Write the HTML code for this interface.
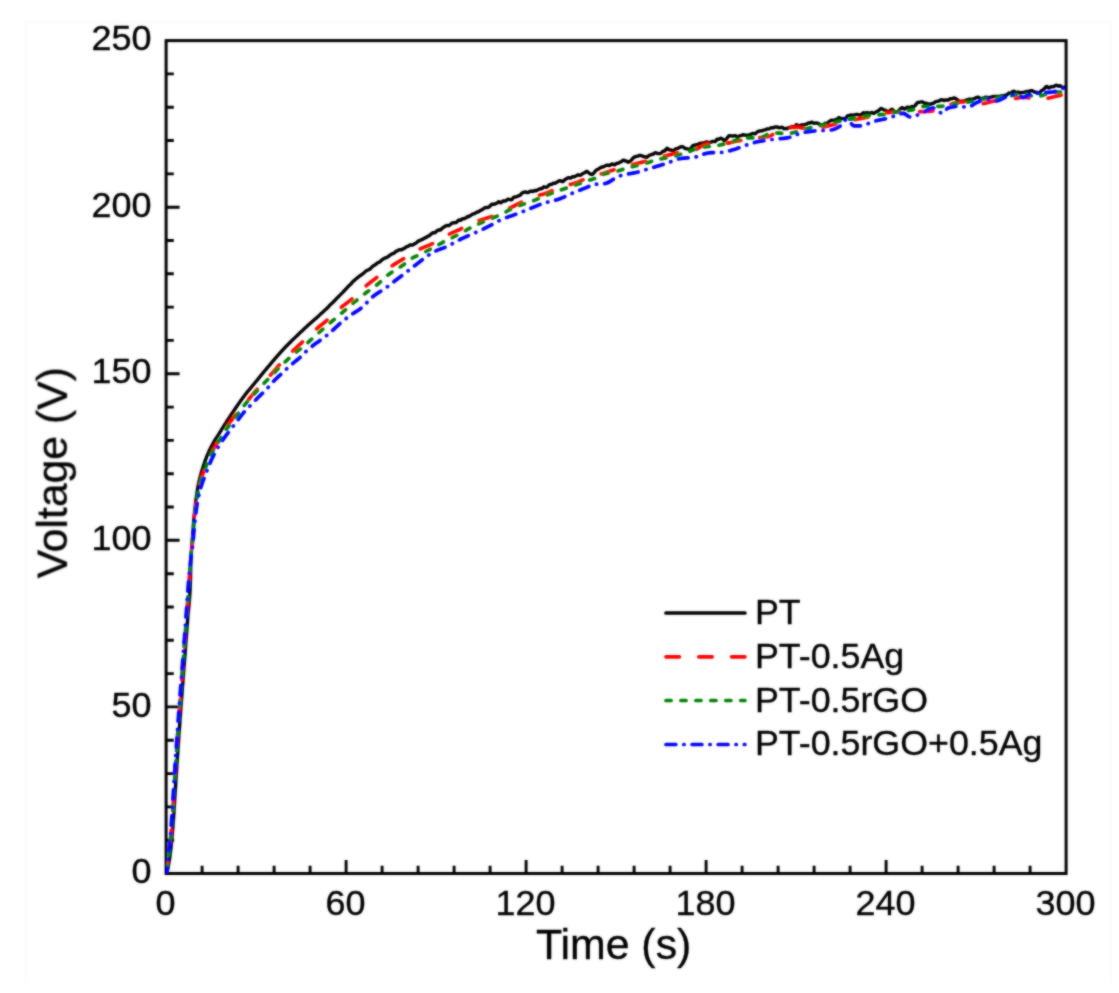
<!DOCTYPE html>
<html lang="en"><head><meta charset="utf-8"><title>Voltage vs Time</title>
<style>
html,body{margin:0;padding:0;background:#fff;}
body{width:1119px;height:993px;overflow:hidden;position:relative;}
svg{display:block;position:absolute;left:0;top:0;}
text{font-family:"Liberation Sans",Arial,Helvetica,sans-serif;fill:#000;stroke:#000;stroke-width:0.35px;}
.tl{font-size:36px;}
.ax{font-size:42.5px;}
.lg{font-size:35.8px;}
.c{fill:none;stroke-width:3.7;stroke-linejoin:round;stroke-linecap:round;}
</style></head><body>
<svg width="1119" height="993" viewBox="0 0 1119 993">
<rect x="0" y="0" width="1119" height="993" fill="#ffffff"/>
<path d="M26,983V22H1110.5V983" fill="none" stroke="#fcfcfc" stroke-width="3"/>
<defs><filter id="bl" filterUnits="userSpaceOnUse" x="0" y="0" width="1119" height="993"><feGaussianBlur stdDeviation="0.8" result="b"/><feComposite in="SourceGraphic" in2="b" operator="arithmetic" k1="0" k2="0.4" k3="0.6" k4="0"/></filter></defs>
<defs><clipPath id="cp"><rect x="165.1" y="40.6" width="901.0" height="833.9"/></clipPath></defs>
<g filter="url(#bl)">
<rect x="166.1" y="40.6" width="900.0" height="832.9" fill="none" stroke="#000" stroke-width="3.0"/>
<path d="M166.1,840.2h7.7M166.1,806.9h7.7M166.1,773.6h7.7M166.1,740.2h7.7M166.1,706.9h13.5M166.1,673.6h7.7M166.1,640.3h7.7M166.1,607.0h7.7M166.1,573.7h7.7M166.1,540.3h13.5M166.1,507.0h7.7M166.1,473.7h7.7M166.1,440.4h7.7M166.1,407.1h7.7M166.1,373.8h13.5M166.1,340.4h7.7M166.1,307.1h7.7M166.1,273.8h7.7M166.1,240.5h7.7M166.1,207.2h13.5M166.1,173.9h7.7M166.1,140.5h7.7M166.1,107.2h7.7M166.1,73.9h7.7M202.1,873.5v-7.7M238.1,873.5v-7.7M274.1,873.5v-7.7M310.1,873.5v-7.7M346.1,873.5v-13.5M382.1,873.5v-7.7M418.1,873.5v-7.7M454.1,873.5v-7.7M490.1,873.5v-7.7M526.1,873.5v-13.5M562.1,873.5v-7.7M598.1,873.5v-7.7M634.1,873.5v-7.7M670.1,873.5v-7.7M706.1,873.5v-13.5M742.1,873.5v-7.7M778.1,873.5v-7.7M814.1,873.5v-7.7M850.1,873.5v-7.7M886.1,873.5v-13.5M922.1,873.5v-7.7M958.1,873.5v-7.7M994.1,873.5v-7.7M1030.1,873.5v-7.7" stroke="#000" stroke-width="2.9" fill="none"/>
</g>
<g clip-path="url(#cp)"><g filter="url(#bl)">
<path class="c" stroke="#000000" style="stroke-width:3.4" d="M166.9,872.5 L167.1,871.8 L167.3,871.1 L167.5,870.3 L167.7,869.4 L167.9,868.4 L168.1,867.4 L168.3,866.4 L168.5,865.3 L168.7,864.1 L168.9,863.0 L169.1,861.7 L169.3,860.5 L169.5,859.2 L169.7,857.8 L169.9,856.4 L170.1,854.9 L170.3,853.3 L170.5,851.7 L170.7,850.0 L170.9,848.2 L171.1,846.3 L171.3,844.4 L171.5,842.4 L171.7,840.3 L171.9,838.2 L172.1,836.1 L172.3,833.9 L172.5,831.6 L172.7,829.3 L172.9,826.9 L173.1,824.3 L173.3,821.6 L173.5,818.8 L173.7,815.8 L173.9,812.8 L174.1,809.7 L174.3,806.6 L174.5,803.4 L174.7,800.2 L174.9,796.9 L175.1,793.6 L175.3,790.4 L175.5,787.1 L175.7,783.9 L175.9,780.8 L176.1,777.6 L176.3,774.6 L176.5,771.6 L176.7,768.6 L176.9,765.6 L177.1,762.5 L177.3,759.5 L177.5,756.5 L177.7,753.5 L177.9,750.5 L178.1,747.5 L178.3,744.6 L178.5,741.6 L178.7,738.7 L178.9,735.9 L179.1,733.0 L179.3,730.2 L179.5,727.4 L179.7,724.6 L179.9,721.8 L180.1,719.0 L180.3,716.2 L180.5,713.5 L180.7,710.8 L180.9,708.1 L181.1,705.4 L181.3,702.7 L181.5,700.0 L181.7,697.3 L181.9,694.7 L182.1,692.1 L182.3,689.5 L182.5,686.9 L182.7,684.4 L182.9,681.8 L183.1,679.3 L183.3,676.7 L183.5,674.2 L183.7,671.6 L183.9,669.1 L184.1,666.5 L184.3,663.9 L184.5,661.3 L184.7,658.7 L184.9,656.1 L185.1,653.4 L185.3,650.8 L185.5,648.1 L185.7,645.5 L185.9,642.8 L186.1,640.2 L186.3,637.5 L186.5,634.8 L186.7,632.1 L186.9,629.5 L187.1,626.8 L187.3,624.1 L187.5,621.4 L187.7,618.7 L187.9,616.2 L188.1,614.0 L188.3,611.9 L188.5,609.9 L188.7,607.9 L188.9,605.8 L189.1,603.7 L189.3,601.3 L189.5,598.8 L189.7,595.9 L189.9,592.6 L190.1,588.9 L190.3,584.7 L190.5,580.0 L190.7,570.0 L190.9,560.0 L191.1,555.6 L191.3,552.1 L191.5,549.3 L191.7,546.9 L191.9,544.7 L192.1,542.5 L192.3,540.0 L192.5,537.2 L192.7,534.4 L192.9,531.6 L193.1,528.8 L193.3,526.1 L193.5,523.4 L193.7,520.8 L193.9,518.4 L194.1,516.2 L194.3,514.1 L194.5,512.1 L194.7,510.2 L194.9,508.4 L195.1,506.6 L195.3,505.0 L195.5,503.3 L195.7,501.8 L195.9,500.3 L196.1,498.8 L196.3,497.4 L196.5,496.0 L196.7,494.6 L196.9,493.3 L197.1,492.0 L197.3,490.7 L197.5,489.5 L197.7,488.2 L197.9,487.1 L198.1,486.0 L198.3,484.9 L198.5,483.9 L198.7,482.9 L198.9,481.9 L199.1,481.0 L199.3,480.2 L199.5,479.3 L199.7,478.5 L199.9,477.7 L200.1,476.9 L200.3,476.1 L200.5,475.4 L200.7,474.6 L200.9,473.9 L201.1,473.2 L201.3,472.5 L201.5,471.9 L201.7,471.2 L201.9,470.6 L202.1,469.9 L202.3,469.3 L202.5,468.6 L202.7,468.0 L202.9,467.4 L203.1,466.8 L203.3,466.1 L203.5,465.5 L203.7,464.9 L203.9,464.3 L204.1,463.8 L204.3,463.2 L204.5,462.6 L204.7,462.0 L204.9,461.5 L205.1,460.9 L205.3,460.4 L205.5,459.8 L205.7,459.3 L205.9,458.8 L206.1,458.3 L206.3,457.7 L206.5,457.2 L206.7,456.7 L206.9,456.2 L207.1,455.7 L207.3,455.3 L207.5,454.8 L207.7,454.3 L207.9,453.8 L208.1,453.4 L208.3,452.9 L208.5,452.5 L208.7,452.0 L208.9,451.6 L209.1,451.1 L209.3,450.7 L209.5,450.3 L209.7,449.8 L209.9,449.4 L210.1,449.0 L210.3,448.6 L210.5,448.2 L210.7,447.8 L210.9,447.4 L211.1,447.0 L211.3,446.6 L211.5,446.2 L211.7,445.8 L211.9,445.4 L212.1,445.1 L212.3,444.7 L212.5,444.3 L212.7,443.9 L212.9,443.6 L213.1,443.2 L213.3,442.9 L213.5,442.5 L213.7,442.1 L213.9,441.8 L214.1,441.5 L214.3,441.1 L214.5,440.8 L214.7,440.5 L214.9,440.2 L215.0,440.0 L216.0,438.4 L217.0,436.9 L218.0,435.4 L219.0,433.8 L220.0,432.2 L221.0,430.6 L222.0,428.9 L223.0,427.3 L224.0,425.7 L225.0,424.1 L226.0,422.6 L227.0,421.0 L228.0,419.5 L229.0,417.9 L230.0,416.4 L231.0,414.9 L232.0,413.4 L233.0,411.9 L234.0,410.5 L235.0,409.0 L236.0,407.5 L237.0,406.1 L238.0,404.6 L239.0,403.2 L240.0,401.8 L241.0,400.3 L242.0,399.0 L243.0,397.6 L244.0,396.3 L245.0,394.9 L246.0,393.7 L247.0,392.4 L248.0,391.2 L249.0,390.0 L250.0,388.8 L251.0,387.6 L252.0,386.4 L253.0,385.2 L254.0,384.0 L255.0,382.7 L256.0,381.5 L257.0,380.3 L258.0,379.1 L259.0,377.8 L260.0,376.6 L261.0,375.4 L262.0,374.2 L263.0,372.9 L264.0,371.7 L265.0,370.5 L266.0,369.3 L267.0,368.1 L268.0,366.9 L269.0,365.8 L270.0,364.6 L271.0,363.4 L272.0,362.2 L273.0,361.0 L274.0,359.9 L275.0,358.7 L276.0,357.5 L277.0,356.4 L278.0,355.2 L279.0,354.1 L280.0,353.0 L281.0,351.8 L282.0,350.7 L283.0,349.7 L284.0,348.6 L285.0,347.5 L286.0,346.5 L287.0,345.5 L288.0,344.5 L289.0,343.5 L290.0,342.5 L291.0,341.5 L292.0,340.5 L293.0,339.5 L294.0,338.6 L295.0,337.6 L296.0,336.6 L297.0,335.7 L298.0,334.7 L299.0,333.7 L300.0,332.8 L301.0,331.8 L302.0,330.9 L303.0,330.0 L304.0,329.0 L305.0,328.1 L306.0,327.2 L307.0,326.3 L308.0,325.3 L309.0,324.4 L310.0,323.5 L311.0,322.7 L312.0,321.8 L313.0,320.9 L314.0,320.0 L315.0,319.1 L316.0,318.3 L317.0,317.5 L318.0,316.6 L319.0,315.6 L320.0,314.6 L321.0,313.6 L322.0,312.8 L323.0,311.9 L324.0,311.0 L325.0,310.1 L326.0,309.2 L327.0,308.2 L328.0,307.3 L329.0,306.2 L330.0,305.0 L331.0,304.1 L332.0,303.2 L333.0,302.3 L334.0,301.3 L335.0,300.3 L336.0,299.2 L337.0,298.1 L338.0,297.2 L339.0,296.1 L340.0,295.1 L341.0,294.1 L342.0,293.1 L343.0,292.1 L344.0,291.0 L345.0,290.0 L346.0,288.9 L347.0,287.8 L348.0,286.7 L349.0,285.7 L350.0,284.8 L351.0,283.9 L352.0,282.6 L353.0,281.5 L354.0,280.7 L355.0,279.9 L356.0,278.9 L357.0,278.1 L358.0,277.3 L359.0,276.4 L360.0,275.8 L361.0,275.2 L362.0,274.3 L363.0,273.6 L364.0,272.9 L365.0,271.9 L366.0,270.9 L367.0,270.4 L368.0,270.0 L369.0,269.6 L370.0,269.0 L371.0,268.0 L372.0,266.9 L373.0,266.0 L374.0,265.4 L375.0,265.0 L376.0,264.2 L377.0,263.2 L378.0,262.6 L379.0,262.3 L380.0,261.8 L381.0,260.8 L382.0,259.8 L383.0,259.1 L384.0,258.5 L385.0,258.0 L386.0,257.7 L387.0,257.3 L388.0,256.7 L389.0,256.0 L390.0,255.2 L391.0,254.5 L392.0,253.9 L393.0,253.5 L394.0,253.2 L395.0,252.3 L396.0,251.3 L397.0,250.9 L398.0,250.4 L399.0,249.8 L400.0,249.6 L401.0,249.8 L402.0,249.5 L403.0,248.8 L404.0,248.5 L405.0,248.0 L406.0,247.1 L407.0,246.6 L408.0,246.4 L409.0,245.7 L410.0,245.0 L411.0,244.8 L412.0,245.0 L413.0,244.8 L414.0,244.2 L415.0,243.5 L416.0,243.1 L417.0,242.2 L418.0,241.2 L419.0,240.8 L420.0,240.4 L421.0,239.9 L422.0,239.5 L423.0,239.2 L424.0,238.4 L425.0,237.8 L426.0,237.5 L427.0,236.8 L428.0,236.2 L429.0,235.9 L430.0,235.0 L431.0,234.1 L432.0,233.4 L433.0,232.7 L434.0,232.7 L435.0,232.7 L436.0,231.8 L437.0,230.8 L438.0,230.1 L439.0,229.9 L440.0,230.2 L441.0,229.5 L442.0,228.4 L443.0,227.7 L444.0,227.0 L445.0,226.3 L446.0,225.8 L447.0,225.5 L448.0,225.6 L449.0,225.5 L450.0,224.9 L451.0,223.9 L452.0,223.1 L453.0,222.8 L454.0,222.6 L455.0,222.7 L456.0,222.5 L457.0,221.8 L458.0,220.7 L459.0,220.0 L460.0,220.4 L461.0,220.1 L462.0,218.9 L463.0,218.8 L464.0,218.7 L465.0,218.1 L466.0,217.9 L467.0,217.0 L468.0,216.3 L469.0,216.5 L470.0,215.9 L471.0,215.1 L472.0,214.5 L473.0,213.9 L474.0,213.9 L475.0,213.3 L476.0,212.6 L477.0,212.2 L478.0,212.0 L479.0,211.5 L480.0,210.7 L481.0,210.3 L482.0,209.7 L483.0,208.9 L484.0,208.4 L485.0,207.7 L486.0,207.5 L487.0,207.6 L488.0,207.3 L489.0,207.0 L490.0,206.2 L491.0,204.9 L492.0,204.1 L493.0,204.2 L494.0,204.3 L495.0,203.9 L496.0,203.5 L497.0,203.1 L498.0,202.1 L499.0,201.7 L500.0,202.4 L501.0,202.8 L502.0,201.9 L503.0,200.9 L504.0,201.0 L505.0,201.1 L506.0,200.7 L507.0,199.8 L508.0,199.3 L509.0,199.3 L510.0,199.6 L511.0,199.9 L512.0,199.4 L513.0,198.0 L514.0,197.2 L515.0,197.0 L516.0,196.8 L517.0,196.6 L518.0,196.1 L519.0,195.7 L520.0,195.2 L521.0,194.2 L522.0,193.0 L523.0,192.5 L524.0,192.3 L525.0,192.0 L526.0,192.0 L527.0,192.6 L528.0,192.6 L529.0,192.0 L530.0,191.4 L531.0,190.9 L532.0,191.4 L533.0,191.5 L534.0,190.6 L535.0,190.5 L536.0,190.8 L537.0,190.2 L538.0,189.7 L539.0,189.3 L540.0,188.7 L541.0,188.8 L542.0,188.6 L543.0,187.4 L544.0,186.8 L545.0,187.1 L546.0,187.3 L547.0,187.1 L548.0,186.2 L549.0,185.0 L550.0,184.5 L551.0,184.5 L552.0,184.2 L553.0,183.4 L554.0,183.2 L555.0,183.3 L556.0,182.8 L557.0,182.1 L558.0,181.6 L559.0,180.9 L560.0,180.6 L561.0,180.8 L562.0,181.5 L563.0,181.6 L564.0,180.4 L565.0,179.6 L566.0,179.0 L567.0,178.3 L568.0,177.9 L569.0,177.7 L570.0,178.1 L571.0,178.1 L572.0,177.1 L573.0,176.6 L574.0,176.8 L575.0,176.4 L576.0,176.0 L577.0,175.4 L578.0,174.8 L579.0,175.1 L580.0,175.4 L581.0,174.9 L582.0,174.1 L583.0,173.4 L584.0,173.0 L585.0,172.5 L586.0,171.7 L587.0,171.4 L588.0,172.2 L589.0,173.1 L590.0,173.7 L591.0,174.3 L592.0,174.6 L593.0,174.0 L594.0,172.8 L595.0,171.4 L596.0,170.4 L597.0,169.7 L598.0,169.3 L599.0,168.8 L600.0,168.0 L601.0,167.3 L602.0,167.0 L603.0,167.0 L604.0,166.5 L605.0,166.0 L606.0,165.5 L607.0,165.1 L608.0,165.2 L609.0,165.6 L610.0,165.3 L611.0,164.5 L612.0,164.0 L613.0,164.2 L614.0,164.8 L615.0,164.7 L616.0,163.7 L617.0,163.3 L618.0,163.4 L619.0,162.8 L620.0,162.1 L621.0,161.9 L622.0,161.2 L623.0,160.1 L624.0,160.1 L625.0,160.8 L626.0,161.0 L627.0,161.4 L628.0,162.2 L629.0,162.0 L630.0,161.3 L631.0,160.6 L632.0,159.4 L633.0,158.2 L634.0,157.2 L635.0,156.8 L636.0,156.5 L637.0,156.3 L638.0,156.1 L639.0,155.5 L640.0,155.4 L641.0,155.6 L642.0,155.8 L643.0,156.4 L644.0,156.8 L645.0,156.7 L646.0,157.2 L647.0,157.3 L648.0,156.3 L649.0,155.4 L650.0,155.2 L651.0,154.7 L652.0,154.1 L653.0,154.2 L654.0,153.6 L655.0,152.6 L656.0,152.8 L657.0,153.4 L658.0,153.5 L659.0,153.6 L660.0,153.5 L661.0,153.2 L662.0,152.3 L663.0,151.3 L664.0,151.2 L665.0,150.8 L666.0,149.3 L667.0,148.2 L668.0,148.8 L669.0,149.9 L670.0,150.0 L671.0,149.9 L672.0,150.4 L673.0,150.8 L674.0,150.3 L675.0,149.4 L676.0,148.7 L677.0,148.7 L678.0,148.4 L679.0,147.7 L680.0,147.2 L681.0,146.8 L682.0,146.7 L683.0,146.9 L684.0,147.5 L685.0,148.4 L686.0,148.7 L687.0,148.8 L688.0,149.1 L689.0,149.4 L690.0,149.0 L691.0,148.2 L692.0,146.8 L693.0,145.5 L694.0,145.3 L695.0,145.2 L696.0,144.6 L697.0,144.8 L698.0,144.6 L699.0,143.6 L700.0,143.3 L701.0,143.6 L702.0,143.2 L703.0,143.0 L704.0,143.1 L705.0,142.5 L706.0,142.0 L707.0,142.0 L708.0,142.3 L709.0,142.6 L710.0,142.5 L711.0,142.1 L712.0,141.7 L713.0,141.4 L714.0,141.4 L715.0,141.7 L716.0,140.8 L717.0,139.3 L718.0,139.2 L719.0,139.3 L720.0,138.4 L721.0,138.2 L722.0,138.8 L723.0,139.4 L724.0,140.5 L725.0,140.6 L726.0,139.4 L727.0,138.3 L728.0,136.8 L729.0,135.7 L730.0,135.8 L731.0,135.9 L732.0,136.0 L733.0,136.1 L734.0,135.8 L735.0,135.6 L736.0,136.0 L737.0,136.7 L738.0,136.9 L739.0,136.3 L740.0,135.6 L741.0,135.6 L742.0,135.4 L743.0,134.6 L744.0,134.6 L745.0,135.2 L746.0,135.4 L747.0,135.2 L748.0,135.1 L749.0,134.9 L750.0,134.6 L751.0,134.2 L752.0,133.8 L753.0,133.5 L754.0,133.7 L755.0,133.9 L756.0,133.1 L757.0,132.1 L758.0,131.6 L759.0,131.2 L760.0,131.0 L761.0,130.9 L762.0,130.8 L763.0,130.4 L764.0,129.9 L765.0,129.9 L766.0,129.7 L767.0,129.0 L768.0,128.9 L769.0,128.9 L770.0,128.4 L771.0,127.8 L772.0,127.6 L773.0,127.9 L774.0,127.4 L775.0,127.0 L776.0,127.0 L777.0,126.9 L778.0,127.3 L779.0,127.7 L780.0,127.7 L781.0,127.5 L782.0,127.2 L783.0,127.7 L784.0,128.7 L785.0,128.6 L786.0,128.5 L787.0,128.7 L788.0,128.1 L789.0,127.5 L790.0,127.4 L791.0,127.0 L792.0,126.5 L793.0,126.7 L794.0,127.2 L795.0,126.4 L796.0,124.8 L797.0,124.8 L798.0,125.6 L799.0,125.6 L800.0,125.5 L801.0,125.2 L802.0,124.7 L803.0,124.9 L804.0,124.9 L805.0,124.5 L806.0,124.3 L807.0,123.9 L808.0,123.2 L809.0,122.9 L810.0,123.0 L811.0,122.5 L812.0,122.2 L813.0,122.8 L814.0,123.2 L815.0,123.1 L816.0,123.0 L817.0,123.2 L818.0,123.4 L819.0,123.8 L820.0,124.6 L821.0,125.0 L822.0,125.2 L823.0,125.2 L824.0,124.1 L825.0,123.3 L826.0,123.4 L827.0,123.4 L828.0,122.6 L829.0,121.6 L830.0,121.0 L831.0,120.4 L832.0,120.2 L833.0,120.5 L834.0,120.5 L835.0,119.8 L836.0,119.5 L837.0,119.5 L838.0,118.3 L839.0,117.5 L840.0,118.1 L841.0,118.7 L842.0,118.7 L843.0,118.5 L844.0,119.0 L845.0,119.1 L846.0,117.9 L847.0,116.5 L848.0,115.6 L849.0,115.5 L850.0,115.3 L851.0,115.0 L852.0,115.1 L853.0,115.1 L854.0,115.0 L855.0,114.9 L856.0,114.4 L857.0,114.4 L858.0,114.8 L859.0,114.8 L860.0,115.1 L861.0,115.0 L862.0,114.0 L863.0,112.9 L864.0,112.8 L865.0,113.1 L866.0,112.9 L867.0,112.7 L868.0,112.8 L869.0,113.1 L870.0,113.2 L871.0,112.6 L872.0,112.5 L873.0,113.2 L874.0,113.3 L875.0,112.6 L876.0,112.0 L877.0,111.5 L878.0,111.2 L879.0,110.3 L880.0,109.1 L881.0,108.5 L882.0,108.8 L883.0,109.4 L884.0,110.0 L885.0,110.1 L886.0,110.4 L887.0,111.6 L888.0,112.0 L889.0,111.4 L890.0,110.7 L891.0,109.7 L892.0,109.3 L893.0,109.9 L894.0,110.9 L895.0,111.8 L896.0,112.1 L897.0,111.8 L898.0,111.3 L899.0,110.3 L900.0,109.2 L901.0,108.4 L902.0,107.7 L903.0,108.1 L904.0,108.9 L905.0,109.0 L906.0,108.2 L907.0,107.2 L908.0,107.2 L909.0,107.7 L910.0,107.5 L911.0,107.0 L912.0,106.5 L913.0,106.6 L914.0,106.6 L915.0,105.7 L916.0,104.4 L917.0,103.0 L918.0,102.4 L919.0,102.4 L920.0,102.2 L921.0,101.9 L922.0,101.9 L923.0,102.2 L924.0,103.1 L925.0,103.5 L926.0,103.2 L927.0,103.6 L928.0,103.9 L929.0,103.9 L930.0,104.4 L931.0,104.2 L932.0,103.4 L933.0,103.4 L934.0,103.0 L935.0,102.0 L936.0,101.6 L937.0,101.4 L938.0,101.1 L939.0,101.0 L940.0,100.4 L941.0,99.7 L942.0,99.7 L943.0,100.2 L944.0,100.5 L945.0,100.2 L946.0,99.9 L947.0,100.0 L948.0,100.2 L949.0,99.6 L950.0,98.8 L951.0,98.7 L952.0,98.8 L953.0,98.3 L954.0,98.0 L955.0,98.2 L956.0,98.8 L957.0,99.5 L958.0,100.2 L959.0,101.4 L960.0,101.6 L961.0,101.2 L962.0,101.1 L963.0,100.8 L964.0,101.0 L965.0,100.9 L966.0,100.1 L967.0,99.8 L968.0,99.7 L969.0,99.2 L970.0,99.1 L971.0,99.4 L972.0,99.5 L973.0,98.9 L974.0,98.8 L975.0,98.5 L976.0,97.7 L977.0,97.4 L978.0,97.1 L979.0,97.5 L980.0,98.6 L981.0,98.8 L982.0,98.5 L983.0,98.1 L984.0,97.8 L985.0,97.4 L986.0,97.2 L987.0,97.3 L988.0,97.7 L989.0,97.8 L990.0,97.4 L991.0,97.1 L992.0,97.0 L993.0,96.6 L994.0,96.5 L995.0,96.7 L996.0,96.5 L997.0,96.3 L998.0,96.4 L999.0,96.5 L1000.0,96.3 L1001.0,95.8 L1002.0,95.6 L1003.0,95.6 L1004.0,95.5 L1005.0,95.3 L1006.0,95.3 L1007.0,95.0 L1008.0,93.8 L1009.0,92.9 L1010.0,93.4 L1011.0,93.3 L1012.0,92.2 L1013.0,91.4 L1014.0,91.3 L1015.0,91.9 L1016.0,92.5 L1017.0,92.5 L1018.0,92.0 L1019.0,92.4 L1020.0,93.1 L1021.0,92.7 L1022.0,92.5 L1023.0,92.6 L1024.0,92.3 L1025.0,92.0 L1026.0,91.8 L1027.0,91.4 L1028.0,91.4 L1029.0,91.4 L1030.0,91.0 L1031.0,90.7 L1032.0,90.7 L1033.0,91.1 L1034.0,91.7 L1035.0,92.2 L1036.0,92.2 L1037.0,92.5 L1038.0,93.1 L1039.0,93.4 L1040.0,92.6 L1041.0,91.0 L1042.0,90.4 L1043.0,90.0 L1044.0,89.1 L1045.0,87.9 L1046.0,86.7 L1047.0,86.5 L1048.0,87.6 L1049.0,88.0 L1050.0,87.3 L1051.0,86.8 L1052.0,86.7 L1053.0,86.9 L1054.0,86.5 L1055.0,85.7 L1056.0,85.2 L1057.0,85.4 L1058.0,86.1 L1059.0,86.0 L1060.0,85.7 L1061.0,86.4 L1062.0,87.2 L1063.0,87.6 L1064.0,87.6 L1065.0,87.2 L1066.0,87.8 L1067.0,88.4"/>
<path class="c" stroke="#ff0000" stroke-dasharray="13.4 19.4" stroke-dashoffset="3.4" d="M166.6,872.5 L166.8,870.9 L167.0,869.3 L167.2,867.7 L167.4,866.1 L167.6,864.4 L167.8,862.8 L168.0,861.1 L168.2,859.4 L168.4,857.6 L168.6,855.9 L168.8,854.2 L169.0,852.5 L169.2,850.8 L169.4,849.1 L169.6,847.3 L169.8,845.5 L170.0,843.7 L170.2,841.9 L170.4,840.0 L170.6,838.0 L170.8,835.9 L171.0,833.8 L171.2,831.6 L171.4,829.3 L171.6,826.9 L171.8,824.3 L172.0,821.6 L172.2,818.8 L172.4,815.8 L172.6,812.8 L172.8,809.7 L173.0,806.6 L173.2,803.4 L173.4,800.2 L173.6,796.9 L173.8,793.6 L174.0,790.4 L174.2,787.1 L174.4,783.9 L174.6,780.8 L174.8,777.6 L175.0,774.6 L175.2,771.6 L175.4,768.6 L175.6,765.6 L175.8,762.5 L176.0,759.5 L176.2,756.5 L176.4,753.5 L176.6,750.5 L176.8,747.5 L177.0,744.6 L177.2,741.6 L177.4,738.7 L177.6,735.9 L177.8,733.0 L178.0,730.2 L178.2,727.4 L178.4,724.6 L178.6,721.8 L178.8,719.0 L179.0,716.2 L179.2,713.5 L179.4,710.8 L179.6,708.1 L179.8,705.4 L180.0,702.7 L180.2,700.0 L180.4,697.3 L180.6,694.7 L180.8,692.1 L181.0,689.5 L181.2,686.9 L181.4,684.4 L181.6,681.8 L181.8,679.3 L182.0,676.7 L182.2,674.2 L182.4,671.6 L182.6,669.1 L182.8,666.5 L183.0,663.9 L183.2,661.3 L183.4,658.7 L183.6,656.1 L183.8,653.4 L184.0,650.8 L184.2,648.1 L184.4,645.5 L184.6,642.8 L184.8,640.2 L185.0,637.5 L185.2,634.8 L185.4,632.1 L185.6,629.5 L185.8,626.8 L186.0,624.1 L186.2,621.4 L186.4,618.6 L186.6,615.9 L186.8,613.2 L187.0,610.5 L187.2,607.7 L187.4,605.0 L187.6,602.2 L187.8,599.5 L188.0,596.7 L188.2,594.0 L188.4,591.2 L188.6,588.4 L188.8,585.6 L189.0,582.8 L189.2,580.0 L189.4,577.1 L189.6,574.1 L189.8,571.1 L190.0,568.1 L190.2,565.2 L190.4,562.4 L190.6,560.0 L190.8,557.8 L191.0,555.8 L191.2,554.0 L191.4,552.2 L191.6,550.5 L191.8,548.7 L192.0,546.9 L192.2,545.0 L192.4,543.0 L192.6,540.8 L192.8,538.3 L193.0,535.8 L193.2,533.1 L193.4,530.3 L193.6,527.5 L193.8,524.8 L194.0,522.1 L194.2,519.5 L194.4,517.1 L194.6,514.9 L194.8,512.9 L195.0,511.2 L195.2,509.5 L195.4,508.0 L195.6,506.5 L195.8,505.1 L196.0,503.8 L196.2,502.5 L196.4,501.3 L196.6,500.1 L196.8,498.9 L197.0,497.8 L197.2,496.6 L197.4,495.5 L197.6,494.5 L197.8,493.4 L198.0,492.3 L198.2,491.3 L198.4,490.3 L198.6,489.3 L198.8,488.3 L199.0,487.3 L199.2,486.4 L199.4,485.5 L199.6,484.6 L199.8,483.7 L200.0,482.9 L200.2,482.1 L200.4,481.4 L200.6,480.6 L200.8,479.9 L201.0,479.3 L201.2,478.6 L201.4,478.0 L201.6,477.4 L201.8,476.8 L202.0,476.2 L202.2,475.6 L202.4,475.0 L202.6,474.5 L202.8,473.9 L203.0,473.4 L203.2,472.8 L203.4,472.3 L203.6,471.7 L203.8,471.2 L204.0,470.6 L204.2,470.0 L204.4,469.5 L204.6,468.9 L204.8,468.4 L205.0,467.8 L205.2,467.3 L205.4,466.8 L205.6,466.2 L205.8,465.7 L206.0,465.2 L206.2,464.6 L206.4,464.1 L206.6,463.6 L206.8,463.1 L207.0,462.6 L207.2,462.1 L207.4,461.6 L207.6,461.1 L207.8,460.6 L208.0,460.2 L208.2,459.7 L208.4,459.2 L208.6,458.8 L208.8,458.3 L209.0,457.9 L209.2,457.4 L209.4,457.0 L209.6,456.6 L209.8,456.1 L210.0,455.7 L210.2,455.3 L210.4,454.9 L210.6,454.5 L210.8,454.1 L211.0,453.7 L211.2,453.3 L211.4,452.9 L211.6,452.5 L211.8,452.1 L212.0,451.7 L212.2,451.3 L212.4,451.0 L212.6,450.6 L212.8,450.2 L213.0,449.9 L213.2,449.5 L213.4,449.2 L213.6,448.8 L213.8,448.5 L214.0,448.1 L214.2,447.8 L214.4,447.5 L214.6,447.1 L214.8,446.8 L215.0,446.5 L215.0,446.5 L216.0,445.0 L217.0,443.5 L218.0,442.0 L219.0,440.6 L220.0,439.0 L221.0,437.4 L222.0,435.7 L223.0,433.9 L224.0,432.1 L225.0,430.2 L226.0,428.4 L227.0,426.7 L228.0,425.0 L229.0,423.5 L230.0,422.1 L231.0,420.7 L232.0,419.5 L233.0,418.2 L234.0,417.0 L235.0,415.8 L236.0,414.6 L237.0,413.4 L238.0,412.2 L239.0,411.0 L240.0,409.8 L241.0,408.6 L242.0,407.4 L243.0,406.2 L244.0,405.0 L245.0,403.8 L246.0,402.6 L247.0,401.4 L248.0,400.2 L249.0,399.0 L250.0,397.8 L251.0,396.6 L252.0,395.4 L253.0,394.2 L254.0,393.0 L255.0,391.8 L256.0,390.6 L257.0,389.5 L258.0,388.3 L259.0,387.2 L260.0,386.1 L261.0,385.1 L262.0,384.0 L263.0,383.0 L264.0,381.9 L265.0,380.9 L266.0,379.9 L267.0,378.8 L268.0,377.8 L269.0,376.7 L270.0,375.6 L271.0,374.5 L272.0,373.4 L273.0,372.2 L274.0,371.1 L275.0,369.9 L276.0,368.7 L277.0,367.6 L278.0,366.4 L279.0,365.3 L280.0,364.1 L281.0,363.0 L282.0,361.9 L283.0,360.8 L284.0,359.8 L285.0,358.8 L286.0,357.7 L287.0,356.7 L288.0,355.7 L289.0,354.7 L290.0,353.8 L291.0,352.8 L292.0,351.8 L293.0,350.9 L294.0,349.9 L295.0,349.0 L296.0,348.0 L297.0,347.1 L298.0,346.1 L299.0,345.2 L300.0,344.3 L301.0,343.4 L302.0,342.4 L303.0,341.5 L304.0,340.5 L305.0,339.6 L306.0,338.7 L307.0,337.7 L308.0,336.8 L309.0,335.8 L310.0,334.9 L311.0,333.9 L312.0,333.0 L313.0,332.1 L314.0,331.1 L315.0,330.2 L316.0,329.4 L317.0,328.5 L318.0,327.6 L319.0,326.8 L320.0,326.0 L321.0,325.2 L322.0,324.4 L323.0,323.6 L324.0,322.8 L325.0,322.0 L326.0,321.1 L327.0,320.3 L328.0,319.5 L329.0,318.6 L330.0,317.7 L331.0,316.8 L332.0,315.9 L333.0,315.0 L334.0,314.0 L335.0,313.1 L336.0,312.1 L337.0,311.2 L338.0,310.3 L339.0,309.3 L340.0,308.5 L341.0,307.6 L342.0,306.8 L343.0,305.9 L344.0,305.1 L345.0,304.4 L346.0,303.6 L347.0,302.9 L348.0,302.1 L349.0,301.4 L350.0,300.6 L351.0,299.8 L352.0,299.0 L353.0,298.1 L354.0,297.3 L355.0,296.4 L356.0,295.4 L357.0,294.5 L358.0,293.5 L359.0,292.5 L360.0,291.5 L361.0,290.5 L362.0,289.5 L363.0,288.6 L364.0,287.7 L365.0,286.8 L366.0,285.9 L367.0,285.1 L368.0,284.2 L369.0,283.4 L370.0,282.7 L371.0,281.9 L372.0,281.1 L373.0,280.4 L374.0,279.6 L375.0,278.9 L376.0,278.1 L377.0,277.3 L378.0,276.5 L379.0,275.7 L380.0,275.0 L381.0,274.2 L382.0,273.4 L383.0,272.6 L384.0,271.8 L385.0,271.0 L386.0,270.2 L387.0,269.4 L388.0,268.7 L389.0,268.0 L390.0,267.2 L391.0,266.5 L392.0,265.9 L393.0,265.2 L394.0,264.6 L395.0,263.9 L396.0,263.3 L397.0,262.7 L398.0,262.1 L399.0,261.5 L400.0,260.9 L401.0,260.3 L402.0,259.7 L403.0,259.1 L404.0,258.5 L405.0,257.9 L406.0,257.3 L407.0,256.6 L408.0,256.0 L409.0,255.4 L410.0,254.7 L411.0,254.1 L412.0,253.4 L413.0,252.8 L414.0,252.2 L415.0,251.6 L416.0,251.0 L417.0,250.4 L418.0,249.9 L419.0,249.4 L420.0,249.0 L421.0,248.5 L422.0,248.1 L423.0,247.7 L424.0,247.3 L425.0,246.9 L426.0,246.5 L427.0,246.1 L428.0,245.7 L429.0,245.3 L430.0,244.9 L431.0,244.4 L432.0,243.9 L433.0,243.4 L434.0,242.9 L435.0,242.4 L436.0,241.8 L437.0,241.2 L438.0,240.6 L439.0,240.0 L440.0,239.4 L441.0,238.8 L442.0,238.2 L443.0,237.6 L444.0,237.0 L445.0,236.4 L446.0,235.9 L447.0,235.3 L448.0,234.8 L449.0,234.3 L450.0,233.8 L451.0,233.4 L452.0,232.9 L453.0,232.5 L454.0,232.0 L455.0,231.6 L456.0,231.2 L457.0,230.7 L458.0,230.3 L459.0,229.8 L460.0,229.3 L461.0,228.8 L462.0,228.3 L463.0,227.7 L464.0,227.2 L465.0,226.7 L466.0,226.1 L467.0,225.6 L468.0,225.0 L469.0,224.5 L470.0,224.0 L471.0,223.5 L472.0,223.0 L473.0,222.6 L474.0,222.2 L475.0,221.8 L476.0,221.5 L477.0,221.1 L478.0,220.8 L479.0,220.5 L480.0,220.2 L481.0,219.9 L482.0,219.6 L483.0,219.4 L484.0,219.1 L485.0,218.8 L486.0,218.4 L487.0,218.1 L488.0,217.8 L489.0,217.4 L490.0,217.1 L491.0,216.7 L492.0,216.3 L493.0,215.9 L494.0,215.4 L495.0,215.0 L496.0,214.6 L497.0,214.1 L498.0,213.7 L499.0,213.2 L500.0,212.8 L501.0,212.3 L502.0,211.9 L503.0,211.4 L504.0,210.9 L505.0,210.4 L506.0,210.0 L507.0,209.5 L508.0,209.0 L509.0,208.5 L510.0,208.0 L511.0,207.5 L512.0,207.0 L513.0,206.5 L514.0,206.0 L515.0,205.5 L516.0,205.0 L517.0,204.4 L518.0,203.9 L519.0,203.4 L520.0,202.9 L521.0,202.3 L522.0,201.8 L523.0,201.3 L524.0,200.8 L525.0,200.3 L526.0,199.8 L527.0,199.3 L528.0,198.9 L529.0,198.5 L530.0,198.1 L531.0,197.7 L532.0,197.4 L533.0,197.0 L534.0,196.7 L535.0,196.4 L536.0,196.1 L537.0,195.9 L538.0,195.6 L539.0,195.3 L540.0,195.1 L541.0,194.8 L542.0,194.5 L543.0,194.2 L544.0,193.9 L545.0,193.5 L546.0,193.2 L547.0,192.8 L548.0,192.4 L549.0,192.0 L550.0,191.6 L551.0,191.2 L552.0,190.8 L553.0,190.3 L554.0,189.9 L555.0,189.5 L556.0,189.0 L557.0,188.6 L558.0,188.2 L559.0,187.8 L560.0,187.4 L561.0,187.1 L562.0,186.7 L563.0,186.4 L564.0,186.1 L565.0,185.8 L566.0,185.5 L567.0,185.2 L568.0,185.0 L569.0,184.7 L570.0,184.5 L571.0,184.2 L572.0,184.0 L573.0,183.7 L574.0,183.4 L575.0,183.1 L576.0,182.7 L577.0,182.4 L578.0,182.0 L579.0,181.6 L580.0,181.2 L581.0,180.7 L582.0,180.3 L583.0,179.8 L584.0,179.3 L585.0,178.9 L586.0,178.4 L587.0,178.0 L588.0,177.6 L589.0,177.2 L590.0,176.8 L591.0,176.5 L592.0,176.2 L593.0,175.9 L594.0,175.7 L595.0,175.4 L596.0,175.2 L597.0,174.9 L598.0,174.7 L599.0,174.4 L600.0,174.2 L601.0,173.9 L602.0,173.7 L603.0,173.4 L604.0,173.1 L605.0,172.8 L606.0,172.4 L607.0,172.1 L608.0,171.8 L609.0,171.5 L610.0,171.1 L611.0,170.8 L612.0,170.5 L613.0,170.1 L614.0,169.8 L615.0,169.5 L616.0,169.1 L617.0,168.8 L618.0,168.5 L619.0,168.2 L620.0,167.9 L621.0,167.6 L622.0,167.3 L623.0,167.1 L624.0,166.8 L625.0,166.5 L626.0,166.3 L627.0,166.0 L628.0,165.7 L629.0,165.5 L630.0,165.2 L631.0,165.0 L632.0,164.7 L633.0,164.5 L634.0,164.2 L635.0,163.9 L636.0,163.7 L637.0,163.4 L638.0,163.2 L639.0,162.9 L640.0,162.7 L641.0,162.4 L642.0,162.2 L643.0,161.9 L644.0,161.7 L645.0,161.4 L646.0,161.2 L647.0,160.9 L648.0,160.7 L649.0,160.4 L650.0,160.1 L651.0,159.9 L652.0,159.6 L653.0,159.3 L654.0,159.0 L655.0,158.7 L656.0,158.4 L657.0,158.1 L658.0,157.8 L659.0,157.5 L660.0,157.3 L661.0,157.0 L662.0,156.7 L663.0,156.5 L664.0,156.2 L665.0,156.0 L666.0,155.7 L667.0,155.5 L668.0,155.2 L669.0,154.9 L670.0,154.7 L671.0,154.4 L672.0,154.2 L673.0,153.9 L674.0,153.7 L675.0,153.5 L676.0,153.2 L677.0,153.0 L678.0,152.8 L679.0,152.6 L680.0,152.4 L681.0,152.2 L682.0,152.0 L683.0,151.9 L684.0,151.7 L685.0,151.6 L686.0,151.5 L687.0,151.4 L688.0,151.3 L689.0,151.2 L690.0,151.2 L691.0,151.1 L692.0,150.9 L693.0,150.7 L694.0,150.3 L695.0,149.9 L696.0,149.4 L697.0,148.9 L698.0,148.3 L699.0,147.7 L700.0,147.1 L701.0,146.5 L702.0,145.9 L703.0,145.3 L704.0,144.8 L705.0,144.4 L706.0,144.0 L707.0,143.8 L708.0,143.6 L709.0,143.6 L710.0,143.6 L711.0,143.7 L712.0,143.8 L713.0,143.9 L714.0,144.0 L715.0,144.1 L716.0,144.2 L717.0,144.2 L718.0,144.3 L719.0,144.3 L720.0,144.3 L721.0,144.2 L722.0,144.1 L723.0,144.0 L724.0,143.9 L725.0,143.7 L726.0,143.5 L727.0,143.3 L728.0,143.1 L729.0,142.9 L730.0,142.7 L731.0,142.5 L732.0,142.2 L733.0,142.0 L734.0,141.8 L735.0,141.5 L736.0,141.3 L737.0,141.1 L738.0,140.9 L739.0,140.7 L740.0,140.6 L741.0,140.4 L742.0,140.2 L743.0,140.0 L744.0,139.8 L745.0,139.7 L746.0,139.5 L747.0,139.3 L748.0,139.1 L749.0,139.0 L750.0,138.8 L751.0,138.7 L752.0,138.5 L753.0,138.4 L754.0,138.3 L755.0,138.2 L756.0,138.1 L757.0,138.0 L758.0,137.9 L759.0,137.8 L760.0,137.7 L761.0,137.6 L762.0,137.5 L763.0,137.4 L764.0,137.3 L765.0,137.1 L766.0,137.0 L767.0,136.8 L768.0,136.6 L769.0,136.4 L770.0,136.0 L771.0,135.6 L772.0,135.0 L773.0,134.3 L774.0,133.6 L775.0,132.9 L776.0,132.2 L777.0,131.5 L778.0,130.9 L779.0,130.4 L780.0,130.1 L781.0,129.8 L782.0,129.6 L783.0,129.3 L784.0,129.1 L785.0,128.8 L786.0,128.6 L787.0,128.4 L788.0,128.2 L789.0,128.0 L790.0,127.8 L791.0,127.7 L792.0,127.5 L793.0,127.4 L794.0,127.3 L795.0,127.3 L796.0,127.2 L797.0,127.2 L798.0,127.2 L799.0,127.3 L800.0,127.5 L801.0,127.6 L802.0,127.9 L803.0,128.1 L804.0,128.3 L805.0,128.6 L806.0,128.8 L807.0,129.0 L808.0,129.2 L809.0,129.3 L810.0,129.3 L811.0,129.3 L812.0,129.2 L813.0,129.2 L814.0,129.0 L815.0,128.9 L816.0,128.7 L817.0,128.6 L818.0,128.4 L819.0,128.1 L820.0,127.9 L821.0,127.7 L822.0,127.4 L823.0,127.2 L824.0,126.9 L825.0,126.7 L826.0,126.4 L827.0,126.2 L828.0,126.0 L829.0,125.7 L830.0,125.5 L831.0,125.3 L832.0,125.0 L833.0,124.7 L834.0,124.5 L835.0,124.2 L836.0,123.9 L837.0,123.7 L838.0,123.4 L839.0,123.2 L840.0,122.9 L841.0,122.7 L842.0,122.5 L843.0,122.2 L844.0,122.0 L845.0,121.8 L846.0,121.6 L847.0,121.3 L848.0,121.1 L849.0,120.9 L850.0,120.7 L851.0,120.5 L852.0,120.3 L853.0,120.0 L854.0,119.8 L855.0,119.6 L856.0,119.4 L857.0,119.2 L858.0,119.0 L859.0,118.8 L860.0,118.6 L861.0,118.4 L862.0,118.2 L863.0,118.1 L864.0,117.9 L865.0,117.7 L866.0,117.5 L867.0,117.3 L868.0,117.2 L869.0,117.0 L870.0,116.8 L871.0,116.6 L872.0,116.4 L873.0,116.2 L874.0,115.9 L875.0,115.7 L876.0,115.4 L877.0,115.1 L878.0,114.9 L879.0,114.6 L880.0,114.3 L881.0,114.0 L882.0,113.8 L883.0,113.5 L884.0,113.3 L885.0,113.1 L886.0,112.9 L887.0,112.7 L888.0,112.6 L889.0,112.5 L890.0,112.4 L891.0,112.4 L892.0,112.3 L893.0,112.3 L894.0,112.3 L895.0,112.2 L896.0,112.2 L897.0,112.2 L898.0,112.1 L899.0,112.1 L900.0,112.1 L901.0,112.1 L902.0,112.1 L903.0,112.1 L904.0,112.0 L905.0,112.0 L906.0,112.0 L907.0,112.0 L908.0,112.0 L909.0,112.0 L910.0,112.0 L911.0,111.9 L912.0,111.9 L913.0,111.9 L914.0,111.9 L915.0,111.9 L916.0,111.9 L917.0,111.8 L918.0,111.8 L919.0,111.8 L920.0,111.7 L921.0,111.7 L922.0,111.7 L923.0,111.6 L924.0,111.6 L925.0,111.5 L926.0,111.5 L927.0,111.4 L928.0,111.3 L929.0,111.3 L930.0,111.2 L931.0,111.1 L932.0,111.0 L933.0,110.9 L934.0,110.7 L935.0,110.6 L936.0,110.3 L937.0,110.0 L938.0,109.6 L939.0,109.2 L940.0,108.7 L941.0,108.2 L942.0,107.7 L943.0,107.3 L944.0,106.8 L945.0,106.3 L946.0,105.8 L947.0,105.4 L948.0,105.0 L949.0,104.7 L950.0,104.4 L951.0,104.2 L952.0,103.9 L953.0,103.6 L954.0,103.4 L955.0,103.1 L956.0,102.9 L957.0,102.7 L958.0,102.5 L959.0,102.3 L960.0,102.1 L961.0,102.0 L962.0,101.9 L963.0,101.8 L964.0,101.8 L965.0,101.8 L966.0,101.9 L967.0,101.9 L968.0,102.0 L969.0,102.1 L970.0,102.3 L971.0,102.4 L972.0,102.6 L973.0,102.7 L974.0,102.9 L975.0,103.0 L976.0,103.1 L977.0,103.3 L978.0,103.4 L979.0,103.5 L980.0,103.5 L981.0,103.6 L982.0,103.6 L983.0,103.6 L984.0,103.4 L985.0,103.3 L986.0,103.0 L987.0,102.8 L988.0,102.5 L989.0,102.2 L990.0,101.9 L991.0,101.6 L992.0,101.4 L993.0,101.2 L994.0,101.0 L995.0,100.8 L996.0,100.7 L997.0,100.6 L998.0,100.4 L999.0,100.3 L1000.0,100.2 L1001.0,100.1 L1002.0,100.0 L1003.0,100.0 L1004.0,99.9 L1005.0,99.8 L1006.0,99.7 L1007.0,99.6 L1008.0,99.5 L1009.0,99.4 L1010.0,99.3 L1011.0,99.1 L1012.0,99.0 L1013.0,98.8 L1014.0,98.6 L1015.0,98.4 L1016.0,98.2 L1017.0,98.1 L1018.0,97.9 L1019.0,97.7 L1020.0,97.6 L1021.0,97.5 L1022.0,97.4 L1023.0,97.4 L1024.0,97.4 L1025.0,97.5 L1026.0,97.5 L1027.0,97.6 L1028.0,97.7 L1029.0,97.9 L1030.0,98.0 L1031.0,98.2 L1032.0,98.3 L1033.0,98.5 L1034.0,98.6 L1035.0,98.7 L1036.0,98.9 L1037.0,99.0 L1038.0,99.1 L1039.0,99.1 L1040.0,99.2 L1041.0,99.2 L1042.0,99.2 L1043.0,99.1 L1044.0,99.0 L1045.0,98.8 L1046.0,98.7 L1047.0,98.5 L1048.0,98.2 L1049.0,98.0 L1050.0,97.8 L1051.0,97.5 L1052.0,97.2 L1053.0,97.0 L1054.0,96.7 L1055.0,96.5 L1056.0,96.3 L1057.0,96.1 L1058.0,95.8 L1059.0,95.6 L1060.0,95.4 L1061.0,95.1 L1062.0,94.8 L1063.0,94.6 L1064.0,94.3 L1065.0,94.1 L1066.0,93.8 L1067.0,93.5"/>
<path class="c" stroke="#008000" stroke-dasharray="5.1 9.85" stroke-dashoffset="-2.6" d="M166.6,872.5 L166.8,870.9 L167.0,869.3 L167.2,867.7 L167.4,866.1 L167.6,864.4 L167.8,862.8 L168.0,861.1 L168.2,859.4 L168.4,857.6 L168.6,855.9 L168.8,854.2 L169.0,852.5 L169.2,850.8 L169.4,849.1 L169.6,847.3 L169.8,845.5 L170.0,843.7 L170.2,841.9 L170.4,840.0 L170.6,838.0 L170.8,835.9 L171.0,833.8 L171.2,831.6 L171.4,829.3 L171.6,826.9 L171.8,824.3 L172.0,821.6 L172.2,818.8 L172.4,815.8 L172.6,812.8 L172.8,809.7 L173.0,806.6 L173.2,803.4 L173.4,800.2 L173.6,796.9 L173.8,793.6 L174.0,790.4 L174.2,787.1 L174.4,783.9 L174.6,780.8 L174.8,777.6 L175.0,774.6 L175.2,771.6 L175.4,768.6 L175.6,765.6 L175.8,762.5 L176.0,759.5 L176.2,756.5 L176.4,753.5 L176.6,750.5 L176.8,747.5 L177.0,744.6 L177.2,741.6 L177.4,738.7 L177.6,735.9 L177.8,733.0 L178.0,730.2 L178.2,727.4 L178.4,724.6 L178.6,721.8 L178.8,719.0 L179.0,716.2 L179.2,713.5 L179.4,710.8 L179.6,708.1 L179.8,705.4 L180.0,702.7 L180.2,700.0 L180.4,697.3 L180.6,694.7 L180.8,692.1 L181.0,689.5 L181.2,686.9 L181.4,684.4 L181.6,681.8 L181.8,679.3 L182.0,676.7 L182.2,674.2 L182.4,671.6 L182.6,669.1 L182.8,666.5 L183.0,663.9 L183.2,661.3 L183.4,658.7 L183.6,656.1 L183.8,653.4 L184.0,650.8 L184.2,648.1 L184.4,645.5 L184.6,642.8 L184.8,640.2 L185.0,637.5 L185.2,634.8 L185.4,632.1 L185.6,629.5 L185.8,626.8 L186.0,624.1 L186.2,621.4 L186.4,618.6 L186.6,615.9 L186.8,613.2 L187.0,610.5 L187.2,607.7 L187.4,605.0 L187.6,602.2 L187.8,599.5 L188.0,596.7 L188.2,594.0 L188.4,591.2 L188.6,588.4 L188.8,585.6 L189.0,582.8 L189.2,580.0 L189.4,577.1 L189.6,574.1 L189.8,571.1 L190.0,568.1 L190.2,565.2 L190.4,562.4 L190.6,560.0 L190.8,557.8 L191.0,555.8 L191.2,553.9 L191.4,552.1 L191.6,550.4 L191.8,548.7 L192.0,546.9 L192.2,545.0 L192.4,543.0 L192.6,540.8 L192.8,538.5 L193.0,536.0 L193.2,533.4 L193.4,530.8 L193.6,528.1 L193.8,525.5 L194.0,522.9 L194.2,520.4 L194.4,518.0 L194.6,515.8 L194.8,513.8 L195.0,512.0 L195.2,510.4 L195.4,508.9 L195.6,507.4 L195.8,506.0 L196.0,504.7 L196.2,503.4 L196.4,502.2 L196.6,501.0 L196.8,499.9 L197.0,498.8 L197.2,497.7 L197.4,496.6 L197.6,495.5 L197.8,494.5 L198.0,493.4 L198.2,492.4 L198.4,491.4 L198.6,490.4 L198.8,489.4 L199.0,488.5 L199.2,487.5 L199.4,486.6 L199.6,485.7 L199.8,484.9 L200.0,484.0 L200.2,483.2 L200.4,482.5 L200.6,481.7 L200.8,481.0 L201.0,480.3 L201.2,479.7 L201.4,479.0 L201.6,478.4 L201.8,477.9 L202.0,477.3 L202.2,476.7 L202.4,476.2 L202.6,475.7 L202.8,475.1 L203.0,474.6 L203.2,474.1 L203.4,473.6 L203.6,473.1 L203.8,472.5 L204.0,472.0 L204.2,471.5 L204.4,470.9 L204.6,470.4 L204.8,469.8 L205.0,469.3 L205.2,468.7 L205.4,468.2 L205.6,467.6 L205.8,467.1 L206.0,466.6 L206.2,466.0 L206.4,465.5 L206.6,464.9 L206.8,464.4 L207.0,463.9 L207.2,463.4 L207.4,462.9 L207.6,462.4 L207.8,461.9 L208.0,461.4 L208.2,460.9 L208.4,460.4 L208.6,459.9 L208.8,459.5 L209.0,459.0 L209.2,458.6 L209.4,458.1 L209.6,457.7 L209.8,457.3 L210.0,456.8 L210.2,456.4 L210.4,456.0 L210.6,455.6 L210.8,455.2 L211.0,454.8 L211.2,454.4 L211.4,454.0 L211.6,453.6 L211.8,453.2 L212.0,452.9 L212.2,452.5 L212.4,452.1 L212.6,451.7 L212.8,451.4 L213.0,451.0 L213.2,450.6 L213.4,450.3 L213.6,449.9 L213.8,449.5 L214.0,449.2 L214.2,448.8 L214.4,448.5 L214.6,448.1 L214.8,447.8 L215.0,447.5 L215.0,447.5 L216.0,445.8 L217.0,444.1 L218.0,442.5 L219.0,441.0 L220.0,439.5 L221.0,437.9 L222.0,436.3 L223.0,434.6 L224.0,432.9 L225.0,431.3 L226.0,429.8 L227.0,428.4 L228.0,427.1 L229.0,425.7 L230.0,424.3 L231.0,422.9 L232.0,421.4 L233.0,420.1 L234.0,418.8 L235.0,417.6 L236.0,416.4 L237.0,415.1 L238.0,413.8 L239.0,412.3 L240.0,410.9 L241.0,409.4 L242.0,408.1 L243.0,406.8 L244.0,405.6 L245.0,404.5 L246.0,403.3 L247.0,402.1 L248.0,400.9 L249.0,399.6 L250.0,398.3 L251.0,397.2 L252.0,396.0 L253.0,395.0 L254.0,394.0 L255.0,392.9 L256.0,391.9 L257.0,390.8 L258.0,389.6 L259.0,388.6 L260.0,387.5 L261.0,386.5 L262.0,385.4 L263.0,384.4 L264.0,383.3 L265.0,382.3 L266.0,381.3 L267.0,380.2 L268.0,379.2 L269.0,378.2 L270.0,377.2 L271.0,376.2 L272.0,375.1 L273.0,374.0 L274.0,373.0 L275.0,371.9 L276.0,370.8 L277.0,369.8 L278.0,368.8 L279.0,367.8 L280.0,366.8 L281.0,365.8 L282.0,364.9 L283.0,363.9 L284.0,363.0 L285.0,362.0 L286.0,361.1 L287.0,360.2 L288.0,359.2 L289.0,358.3 L290.0,357.4 L291.0,356.5 L292.0,355.6 L293.0,354.7 L294.0,353.9 L295.0,353.1 L296.0,352.2 L297.0,351.4 L298.0,350.6 L299.0,349.9 L300.0,349.1 L301.0,348.3 L302.0,347.5 L303.0,346.7 L304.0,345.8 L305.0,345.0 L306.0,344.1 L307.0,343.3 L308.0,342.4 L309.0,341.5 L310.0,340.6 L311.0,339.7 L312.0,338.8 L313.0,337.9 L314.0,337.0 L315.0,336.1 L316.0,335.2 L317.0,334.3 L318.0,333.4 L319.0,332.5 L320.0,331.6 L321.0,330.7 L322.0,329.8 L323.0,329.0 L324.0,328.1 L325.0,327.2 L326.0,326.3 L327.0,325.4 L328.0,324.5 L329.0,323.7 L330.0,322.9 L331.0,322.0 L332.0,321.2 L333.0,320.4 L334.0,319.6 L335.0,318.8 L336.0,317.9 L337.0,317.1 L338.0,316.3 L339.0,315.4 L340.0,314.6 L341.0,313.7 L342.0,312.8 L343.0,311.9 L344.0,311.0 L345.0,310.1 L346.0,309.2 L347.0,308.3 L348.0,307.4 L349.0,306.5 L350.0,305.6 L351.0,304.8 L352.0,303.9 L353.0,303.1 L354.0,302.3 L355.0,301.6 L356.0,300.8 L357.0,300.0 L358.0,299.3 L359.0,298.5 L360.0,297.7 L361.0,296.8 L362.0,296.0 L363.0,295.2 L364.0,294.4 L365.0,293.6 L366.0,292.8 L367.0,292.1 L368.0,291.3 L369.0,290.6 L370.0,289.9 L371.0,289.1 L372.0,288.4 L373.0,287.7 L374.0,287.0 L375.0,286.2 L376.0,285.5 L377.0,284.7 L378.0,283.9 L379.0,283.1 L380.0,282.1 L381.0,281.2 L382.0,280.3 L383.0,279.3 L384.0,278.4 L385.0,277.5 L386.0,276.6 L387.0,275.8 L388.0,274.9 L389.0,274.2 L390.0,273.5 L391.0,272.8 L392.0,272.2 L393.0,271.6 L394.0,270.9 L395.0,270.3 L396.0,269.6 L397.0,269.0 L398.0,268.4 L399.0,267.7 L400.0,267.1 L401.0,266.5 L402.0,265.8 L403.0,265.1 L404.0,264.3 L405.0,263.5 L406.0,262.7 L407.0,261.9 L408.0,261.2 L409.0,260.4 L410.0,259.7 L411.0,258.9 L412.0,258.2 L413.0,257.6 L414.0,257.1 L415.0,256.6 L416.0,256.2 L417.0,255.8 L418.0,255.3 L419.0,254.9 L420.0,254.4 L421.0,253.9 L422.0,253.4 L423.0,252.9 L424.0,252.4 L425.0,251.9 L426.0,251.4 L427.0,250.9 L428.0,250.4 L429.0,249.9 L430.0,249.3 L431.0,248.8 L432.0,248.3 L433.0,247.7 L434.0,247.2 L435.0,246.7 L436.0,246.1 L437.0,245.5 L438.0,245.0 L439.0,244.4 L440.0,243.9 L441.0,243.3 L442.0,242.8 L443.0,242.2 L444.0,241.7 L445.0,241.2 L446.0,240.7 L447.0,240.2 L448.0,239.7 L449.0,239.2 L450.0,238.7 L451.0,238.2 L452.0,237.7 L453.0,237.2 L454.0,236.7 L455.0,236.2 L456.0,235.7 L457.0,235.2 L458.0,234.7 L459.0,234.1 L460.0,233.6 L461.0,233.1 L462.0,232.5 L463.0,232.0 L464.0,231.4 L465.0,230.8 L466.0,230.3 L467.0,229.7 L468.0,229.2 L469.0,228.6 L470.0,228.1 L471.0,227.5 L472.0,227.0 L473.0,226.5 L474.0,226.0 L475.0,225.5 L476.0,225.1 L477.0,224.6 L478.0,224.1 L479.0,223.7 L480.0,223.2 L481.0,222.8 L482.0,222.3 L483.0,221.9 L484.0,221.5 L485.0,221.0 L486.0,220.6 L487.0,220.2 L488.0,219.8 L489.0,219.4 L490.0,219.0 L491.0,218.6 L492.0,218.2 L493.0,217.8 L494.0,217.4 L495.0,217.0 L496.0,216.6 L497.0,216.2 L498.0,215.8 L499.0,215.3 L500.0,214.9 L501.0,214.4 L502.0,213.9 L503.0,213.4 L504.0,212.9 L505.0,212.4 L506.0,211.8 L507.0,211.2 L508.0,210.7 L509.0,210.1 L510.0,209.5 L511.0,209.0 L512.0,208.5 L513.0,207.9 L514.0,207.5 L515.0,207.0 L516.0,206.6 L517.0,206.2 L518.0,205.8 L519.0,205.5 L520.0,205.2 L521.0,204.9 L522.0,204.6 L523.0,204.3 L524.0,204.0 L525.0,203.7 L526.0,203.4 L527.0,203.1 L528.0,202.8 L529.0,202.5 L530.0,202.1 L531.0,201.7 L532.0,201.3 L533.0,200.9 L534.0,200.5 L535.0,200.1 L536.0,199.6 L537.0,199.2 L538.0,198.7 L539.0,198.2 L540.0,197.8 L541.0,197.3 L542.0,196.9 L543.0,196.5 L544.0,196.0 L545.0,195.6 L546.0,195.2 L547.0,194.9 L548.0,194.5 L549.0,194.1 L550.0,193.8 L551.0,193.4 L552.0,193.1 L553.0,192.7 L554.0,192.4 L555.0,192.1 L556.0,191.7 L557.0,191.4 L558.0,191.0 L559.0,190.7 L560.0,190.3 L561.0,190.0 L562.0,189.6 L563.0,189.3 L564.0,188.9 L565.0,188.6 L566.0,188.2 L567.0,187.9 L568.0,187.5 L569.0,187.2 L570.0,186.8 L571.0,186.5 L572.0,186.1 L573.0,185.8 L574.0,185.4 L575.0,185.1 L576.0,184.7 L577.0,184.4 L578.0,184.0 L579.0,183.7 L580.0,183.3 L581.0,183.0 L582.0,182.6 L583.0,182.3 L584.0,181.9 L585.0,181.6 L586.0,181.2 L587.0,180.9 L588.0,180.6 L589.0,180.3 L590.0,180.0 L591.0,179.7 L592.0,179.4 L593.0,179.1 L594.0,178.8 L595.0,178.4 L596.0,177.9 L597.0,177.4 L598.0,176.8 L599.0,176.3 L600.0,175.7 L601.0,175.2 L602.0,174.7 L603.0,174.4 L604.0,174.1 L605.0,173.8 L606.0,173.5 L607.0,173.3 L608.0,173.1 L609.0,172.9 L610.0,172.7 L611.0,172.5 L612.0,172.3 L613.0,172.1 L614.0,171.9 L615.0,171.7 L616.0,171.4 L617.0,171.2 L618.0,170.9 L619.0,170.6 L620.0,170.3 L621.0,170.0 L622.0,169.6 L623.0,169.3 L624.0,169.0 L625.0,168.7 L626.0,168.4 L627.0,168.1 L628.0,167.8 L629.0,167.5 L630.0,167.2 L631.0,166.9 L632.0,166.7 L633.0,166.4 L634.0,166.2 L635.0,165.9 L636.0,165.7 L637.0,165.4 L638.0,165.2 L639.0,165.0 L640.0,164.7 L641.0,164.5 L642.0,164.2 L643.0,163.9 L644.0,163.7 L645.0,163.4 L646.0,163.1 L647.0,162.8 L648.0,162.5 L649.0,162.2 L650.0,161.9 L651.0,161.5 L652.0,161.2 L653.0,160.9 L654.0,160.6 L655.0,160.3 L656.0,160.0 L657.0,159.7 L658.0,159.4 L659.0,159.2 L660.0,159.0 L661.0,158.8 L662.0,158.6 L663.0,158.4 L664.0,158.2 L665.0,158.0 L666.0,157.9 L667.0,157.7 L668.0,157.5 L669.0,157.3 L670.0,157.1 L671.0,156.9 L672.0,156.7 L673.0,156.5 L674.0,156.2 L675.0,156.0 L676.0,155.7 L677.0,155.4 L678.0,155.1 L679.0,154.8 L680.0,154.5 L681.0,154.2 L682.0,153.9 L683.0,153.6 L684.0,153.2 L685.0,152.9 L686.0,152.6 L687.0,152.3 L688.0,151.9 L689.0,151.6 L690.0,151.2 L691.0,150.8 L692.0,150.4 L693.0,150.0 L694.0,149.5 L695.0,149.1 L696.0,148.7 L697.0,148.4 L698.0,148.0 L699.0,147.7 L700.0,147.5 L701.0,147.3 L702.0,147.1 L703.0,147.0 L704.0,146.9 L705.0,146.8 L706.0,146.7 L707.0,146.6 L708.0,146.5 L709.0,146.4 L710.0,146.4 L711.0,146.3 L712.0,146.2 L713.0,146.1 L714.0,146.0 L715.0,145.9 L716.0,145.8 L717.0,145.6 L718.0,145.4 L719.0,145.2 L720.0,145.0 L721.0,144.8 L722.0,144.6 L723.0,144.3 L724.0,144.1 L725.0,143.8 L726.0,143.5 L727.0,143.3 L728.0,143.0 L729.0,142.7 L730.0,142.4 L731.0,142.1 L732.0,141.8 L733.0,141.4 L734.0,141.0 L735.0,140.6 L736.0,140.2 L737.0,139.7 L738.0,139.3 L739.0,139.0 L740.0,138.6 L741.0,138.4 L742.0,138.1 L743.0,138.0 L744.0,137.9 L745.0,137.9 L746.0,137.9 L747.0,137.9 L748.0,137.9 L749.0,137.9 L750.0,137.9 L751.0,137.9 L752.0,137.9 L753.0,137.9 L754.0,137.9 L755.0,137.9 L756.0,137.9 L757.0,137.9 L758.0,137.9 L759.0,137.9 L760.0,137.8 L761.0,137.5 L762.0,137.2 L763.0,136.8 L764.0,136.3 L765.0,135.8 L766.0,135.3 L767.0,134.8 L768.0,134.3 L769.0,133.8 L770.0,133.4 L771.0,133.1 L772.0,133.0 L773.0,132.9 L774.0,132.9 L775.0,132.9 L776.0,133.0 L777.0,133.0 L778.0,133.1 L779.0,133.2 L780.0,133.2 L781.0,133.3 L782.0,133.4 L783.0,133.5 L784.0,133.5 L785.0,133.6 L786.0,133.6 L787.0,133.6 L788.0,133.6 L789.0,133.5 L790.0,133.4 L791.0,133.2 L792.0,132.9 L793.0,132.7 L794.0,132.4 L795.0,132.1 L796.0,131.8 L797.0,131.4 L798.0,131.1 L799.0,130.8 L800.0,130.5 L801.0,130.2 L802.0,130.0 L803.0,129.7 L804.0,129.5 L805.0,129.2 L806.0,128.9 L807.0,128.7 L808.0,128.4 L809.0,128.2 L810.0,127.9 L811.0,127.7 L812.0,127.4 L813.0,127.2 L814.0,126.9 L815.0,126.7 L816.0,126.5 L817.0,126.2 L818.0,126.0 L819.0,125.8 L820.0,125.6 L821.0,125.4 L822.0,125.2 L823.0,125.0 L824.0,124.8 L825.0,124.6 L826.0,124.5 L827.0,124.3 L828.0,124.0 L829.0,123.8 L830.0,123.6 L831.0,123.4 L832.0,123.2 L833.0,122.9 L834.0,122.6 L835.0,122.4 L836.0,122.1 L837.0,121.9 L838.0,121.6 L839.0,121.3 L840.0,121.1 L841.0,120.8 L842.0,120.6 L843.0,120.4 L844.0,120.2 L845.0,120.0 L846.0,119.8 L847.0,119.6 L848.0,119.5 L849.0,119.3 L850.0,119.2 L851.0,119.1 L852.0,118.9 L853.0,118.8 L854.0,118.6 L855.0,118.5 L856.0,118.3 L857.0,118.2 L858.0,118.0 L859.0,117.8 L860.0,117.7 L861.0,117.4 L862.0,117.2 L863.0,117.0 L864.0,116.7 L865.0,116.5 L866.0,116.2 L867.0,116.0 L868.0,115.8 L869.0,115.6 L870.0,115.4 L871.0,115.2 L872.0,115.1 L873.0,115.0 L874.0,114.9 L875.0,114.9 L876.0,114.8 L877.0,114.8 L878.0,114.8 L879.0,114.8 L880.0,114.7 L881.0,114.7 L882.0,114.7 L883.0,114.6 L884.0,114.6 L885.0,114.5 L886.0,114.4 L887.0,114.3 L888.0,114.1 L889.0,113.9 L890.0,113.6 L891.0,113.4 L892.0,113.1 L893.0,112.8 L894.0,112.6 L895.0,112.3 L896.0,112.1 L897.0,111.9 L898.0,111.7 L899.0,111.5 L900.0,111.4 L901.0,111.3 L902.0,111.1 L903.0,111.0 L904.0,110.9 L905.0,110.8 L906.0,110.7 L907.0,110.6 L908.0,110.5 L909.0,110.4 L910.0,110.2 L911.0,110.1 L912.0,109.9 L913.0,109.7 L914.0,109.5 L915.0,109.2 L916.0,108.9 L917.0,108.6 L918.0,108.3 L919.0,107.9 L920.0,107.6 L921.0,107.3 L922.0,107.0 L923.0,106.7 L924.0,106.5 L925.0,106.4 L926.0,106.3 L927.0,106.3 L928.0,106.3 L929.0,106.3 L930.0,106.3 L931.0,106.3 L932.0,106.3 L933.0,106.3 L934.0,106.3 L935.0,106.3 L936.0,106.3 L937.0,106.3 L938.0,106.3 L939.0,106.3 L940.0,106.3 L941.0,106.3 L942.0,106.3 L943.0,106.2 L944.0,106.0 L945.0,105.9 L946.0,105.7 L947.0,105.4 L948.0,105.2 L949.0,105.0 L950.0,104.7 L951.0,104.5 L952.0,104.2 L953.0,104.0 L954.0,103.8 L955.0,103.6 L956.0,103.5 L957.0,103.3 L958.0,103.2 L959.0,103.1 L960.0,103.0 L961.0,102.8 L962.0,102.7 L963.0,102.6 L964.0,102.5 L965.0,102.4 L966.0,102.3 L967.0,102.1 L968.0,102.0 L969.0,101.9 L970.0,101.7 L971.0,101.5 L972.0,101.4 L973.0,101.2 L974.0,101.0 L975.0,100.8 L976.0,100.6 L977.0,100.4 L978.0,100.2 L979.0,100.0 L980.0,99.8 L981.0,99.6 L982.0,99.5 L983.0,99.3 L984.0,99.2 L985.0,99.0 L986.0,98.9 L987.0,98.7 L988.0,98.6 L989.0,98.5 L990.0,98.4 L991.0,98.2 L992.0,98.1 L993.0,98.0 L994.0,97.9 L995.0,97.8 L996.0,97.6 L997.0,97.5 L998.0,97.4 L999.0,97.3 L1000.0,97.2 L1001.0,97.0 L1002.0,96.9 L1003.0,96.8 L1004.0,96.7 L1005.0,96.6 L1006.0,96.4 L1007.0,96.3 L1008.0,96.2 L1009.0,96.1 L1010.0,95.9 L1011.0,95.8 L1012.0,95.6 L1013.0,95.5 L1014.0,95.3 L1015.0,95.1 L1016.0,94.9 L1017.0,94.6 L1018.0,94.4 L1019.0,94.2 L1020.0,94.1 L1021.0,93.9 L1022.0,93.8 L1023.0,93.8 L1024.0,93.9 L1025.0,94.0 L1026.0,94.2 L1027.0,94.5 L1028.0,94.9 L1029.0,95.2 L1030.0,95.6 L1031.0,95.9 L1032.0,96.2 L1033.0,96.5 L1034.0,96.7 L1035.0,96.8 L1036.0,96.8 L1037.0,96.7 L1038.0,96.6 L1039.0,96.3 L1040.0,96.1 L1041.0,95.8 L1042.0,95.5 L1043.0,95.2 L1044.0,94.8 L1045.0,94.5 L1046.0,94.2 L1047.0,94.0 L1048.0,93.8 L1049.0,93.6 L1050.0,93.5 L1051.0,93.3 L1052.0,93.1 L1053.0,92.9 L1054.0,92.8 L1055.0,92.6 L1056.0,92.5 L1057.0,92.4 L1058.0,92.2 L1059.0,92.1 L1060.0,92.1 L1061.0,92.0 L1062.0,92.0 L1063.0,92.0 L1064.0,92.0 L1065.0,92.0 L1066.0,92.0 L1067.0,92.0"/>
<path class="c" stroke="#0000ff" stroke-dasharray="9.8 8.0 0.3 8.0" stroke-dashoffset="4.9" d="M166.6,872.5 L166.8,870.0 L167.0,867.6 L167.2,865.2 L167.4,862.9 L167.6,860.7 L167.8,858.5 L168.0,856.4 L168.2,854.5 L168.4,852.6 L168.6,850.8 L168.8,849.1 L169.0,847.4 L169.2,845.7 L169.4,844.0 L169.6,842.3 L169.8,840.5 L170.0,838.7 L170.2,836.8 L170.4,834.8 L170.6,832.7 L170.8,830.5 L171.0,828.1 L171.2,825.6 L171.4,823.0 L171.6,820.2 L171.8,817.3 L172.0,814.4 L172.2,811.3 L172.4,808.2 L172.6,805.0 L172.8,801.8 L173.0,798.5 L173.2,795.3 L173.4,792.0 L173.6,788.8 L173.8,785.5 L174.0,782.3 L174.2,779.2 L174.4,776.1 L174.6,773.1 L174.8,770.1 L175.0,767.1 L175.2,764.0 L175.4,761.0 L175.6,758.0 L175.8,755.0 L176.0,752.0 L176.2,749.0 L176.4,746.0 L176.6,743.1 L176.8,740.2 L177.0,737.3 L177.2,734.4 L177.4,731.6 L177.6,728.8 L177.8,726.0 L178.0,723.2 L178.2,720.4 L178.4,717.6 L178.6,714.9 L178.8,712.1 L179.0,709.4 L179.2,706.7 L179.4,704.0 L179.6,701.3 L179.8,698.7 L180.0,696.0 L180.2,693.4 L180.4,690.8 L180.6,688.2 L180.8,685.7 L181.0,683.1 L181.2,680.5 L181.4,678.0 L181.6,675.5 L181.8,672.9 L182.0,670.3 L182.2,667.8 L182.4,665.2 L182.6,662.6 L182.8,660.0 L183.0,657.4 L183.2,654.7 L183.4,652.1 L183.6,649.5 L183.8,646.8 L184.0,644.2 L184.2,641.5 L184.4,638.8 L184.6,636.2 L184.8,633.5 L185.0,630.8 L185.2,628.1 L185.4,625.4 L185.6,622.7 L185.8,620.0 L186.0,617.3 L186.2,614.4 L186.4,611.6 L186.6,608.7 L186.8,605.8 L187.0,602.9 L187.2,600.0 L187.4,597.1 L187.6,594.3 L187.8,591.5 L188.0,588.8 L188.2,586.1 L188.4,583.6 L188.6,581.2 L188.8,578.9 L189.0,576.6 L189.2,574.4 L189.4,572.3 L189.6,570.3 L189.8,568.3 L190.0,566.3 L190.2,564.5 L190.4,562.6 L190.6,560.9 L190.8,559.2 L191.0,557.6 L191.2,556.1 L191.4,554.7 L191.6,553.3 L191.8,551.9 L192.0,550.5 L192.2,549.1 L192.4,547.5 L192.6,545.9 L192.8,544.1 L193.0,542.0 L193.2,539.7 L193.4,537.3 L193.6,534.9 L193.8,532.5 L194.0,530.3 L194.2,528.2 L194.4,526.2 L194.6,524.3 L194.8,522.4 L195.0,520.5 L195.2,518.6 L195.4,516.8 L195.6,515.0 L195.8,513.3 L196.0,511.7 L196.2,510.1 L196.4,508.7 L196.6,507.3 L196.8,506.0 L197.0,504.8 L197.2,503.6 L197.4,502.5 L197.6,501.4 L197.8,500.3 L198.0,499.3 L198.2,498.3 L198.4,497.3 L198.6,496.4 L198.8,495.5 L199.0,494.6 L199.2,493.7 L199.4,492.9 L199.6,492.1 L199.8,491.3 L200.0,490.5 L200.2,489.8 L200.4,489.0 L200.6,488.3 L200.8,487.6 L201.0,486.9 L201.2,486.2 L201.4,485.6 L201.6,485.0 L201.8,484.3 L202.0,483.7 L202.2,483.1 L202.4,482.6 L202.6,482.0 L202.8,481.4 L203.0,480.9 L203.2,480.3 L203.4,479.8 L203.6,479.3 L203.8,478.8 L204.0,478.3 L204.2,477.8 L204.4,477.3 L204.6,476.7 L204.8,476.2 L205.0,475.7 L205.2,475.2 L205.4,474.7 L205.6,474.2 L205.8,473.7 L206.0,473.2 L206.2,472.7 L206.4,472.2 L206.6,471.6 L206.8,471.1 L207.0,470.6 L207.2,470.1 L207.4,469.6 L207.6,469.1 L207.8,468.6 L208.0,468.0 L208.2,467.5 L208.4,467.0 L208.6,466.5 L208.8,466.0 L209.0,465.5 L209.2,465.0 L209.4,464.6 L209.6,464.1 L209.8,463.6 L210.0,463.1 L210.2,462.6 L210.4,462.2 L210.6,461.7 L210.8,461.2 L211.0,460.8 L211.2,460.3 L211.4,459.9 L211.6,459.4 L211.8,459.0 L212.0,458.6 L212.2,458.2 L212.4,457.7 L212.6,457.3 L212.8,456.9 L213.0,456.5 L213.2,456.1 L213.4,455.7 L213.6,455.3 L213.8,454.9 L214.0,454.5 L214.2,454.1 L214.4,453.7 L214.6,453.3 L214.8,452.9 L215.0,452.5 L215.0,452.5 L216.0,450.7 L217.0,448.9 L218.0,447.2 L219.0,445.5 L220.0,444.0 L221.0,442.5 L222.0,441.0 L223.0,439.6 L224.0,438.2 L225.0,436.8 L226.0,435.4 L227.0,434.1 L228.0,432.8 L229.0,431.4 L230.0,430.2 L231.0,428.9 L232.0,427.6 L233.0,426.4 L234.0,425.2 L235.0,424.0 L236.0,422.7 L237.0,421.3 L238.0,419.9 L239.0,418.5 L240.0,417.2 L241.0,415.9 L242.0,414.6 L243.0,413.4 L244.0,412.1 L245.0,411.0 L246.0,409.9 L247.0,408.8 L248.0,407.8 L249.0,406.8 L250.0,405.8 L251.0,404.8 L252.0,403.8 L253.0,402.8 L254.0,401.7 L255.0,400.7 L256.0,399.6 L257.0,398.6 L258.0,397.5 L259.0,396.5 L260.0,395.6 L261.0,394.6 L262.0,393.7 L263.0,392.7 L264.0,391.8 L265.0,390.8 L266.0,389.7 L267.0,388.6 L268.0,387.6 L269.0,386.4 L270.0,385.3 L271.0,384.2 L272.0,383.1 L273.0,381.9 L274.0,380.9 L275.0,379.8 L276.0,378.8 L277.0,377.9 L278.0,376.9 L279.0,376.0 L280.0,375.1 L281.0,374.2 L282.0,373.3 L283.0,372.4 L284.0,371.4 L285.0,370.4 L286.0,369.5 L287.0,368.5 L288.0,367.6 L289.0,366.7 L290.0,365.8 L291.0,364.9 L292.0,364.1 L293.0,363.3 L294.0,362.4 L295.0,361.6 L296.0,360.8 L297.0,360.0 L298.0,359.2 L299.0,358.3 L300.0,357.4 L301.0,356.4 L302.0,355.5 L303.0,354.5 L304.0,353.5 L305.0,352.5 L306.0,351.5 L307.0,350.6 L308.0,349.7 L309.0,348.8 L310.0,347.9 L311.0,347.1 L312.0,346.3 L313.0,345.5 L314.0,344.7 L315.0,344.0 L316.0,343.3 L317.0,342.6 L318.0,341.9 L319.0,341.2 L320.0,340.4 L321.0,339.7 L322.0,339.0 L323.0,338.3 L324.0,337.5 L325.0,336.7 L326.0,336.0 L327.0,335.2 L328.0,334.4 L329.0,333.5 L330.0,332.7 L331.0,331.8 L332.0,330.9 L333.0,330.0 L334.0,329.1 L335.0,328.1 L336.0,327.2 L337.0,326.3 L338.0,325.4 L339.0,324.4 L340.0,323.5 L341.0,322.7 L342.0,321.8 L343.0,321.0 L344.0,320.1 L345.0,319.3 L346.0,318.6 L347.0,317.8 L348.0,317.0 L349.0,316.3 L350.0,315.6 L351.0,314.9 L352.0,314.2 L353.0,313.6 L354.0,312.9 L355.0,312.3 L356.0,311.7 L357.0,311.0 L358.0,310.4 L359.0,309.7 L360.0,309.0 L361.0,308.2 L362.0,307.4 L363.0,306.5 L364.0,305.6 L365.0,304.6 L366.0,303.5 L367.0,302.4 L368.0,301.4 L369.0,300.3 L370.0,299.3 L371.0,298.3 L372.0,297.4 L373.0,296.5 L374.0,295.7 L375.0,294.9 L376.0,294.2 L377.0,293.6 L378.0,292.9 L379.0,292.3 L380.0,291.7 L381.0,291.1 L382.0,290.4 L383.0,289.8 L384.0,289.2 L385.0,288.5 L386.0,287.8 L387.0,287.0 L388.0,286.3 L389.0,285.5 L390.0,284.7 L391.0,283.9 L392.0,283.1 L393.0,282.4 L394.0,281.6 L395.0,280.8 L396.0,280.0 L397.0,279.3 L398.0,278.5 L399.0,277.8 L400.0,277.1 L401.0,276.3 L402.0,275.6 L403.0,274.8 L404.0,274.0 L405.0,273.3 L406.0,272.5 L407.0,271.7 L408.0,270.9 L409.0,270.1 L410.0,269.3 L411.0,268.5 L412.0,267.8 L413.0,267.0 L414.0,266.2 L415.0,265.4 L416.0,264.7 L417.0,263.9 L418.0,263.1 L419.0,262.4 L420.0,261.6 L421.0,260.8 L422.0,260.0 L423.0,259.3 L424.0,258.5 L425.0,257.7 L426.0,257.0 L427.0,256.2 L428.0,255.5 L429.0,254.8 L430.0,254.2 L431.0,253.5 L432.0,252.9 L433.0,252.3 L434.0,251.8 L435.0,251.3 L436.0,250.8 L437.0,250.3 L438.0,249.9 L439.0,249.6 L440.0,249.2 L441.0,248.8 L442.0,248.5 L443.0,248.1 L444.0,247.8 L445.0,247.4 L446.0,247.0 L447.0,246.6 L448.0,246.1 L449.0,245.6 L450.0,245.1 L451.0,244.5 L452.0,243.9 L453.0,243.3 L454.0,242.8 L455.0,242.2 L456.0,241.6 L457.0,241.1 L458.0,240.5 L459.0,240.0 L460.0,239.5 L461.0,239.0 L462.0,238.5 L463.0,238.1 L464.0,237.6 L465.0,237.2 L466.0,236.7 L467.0,236.3 L468.0,235.9 L469.0,235.4 L470.0,235.0 L471.0,234.5 L472.0,234.1 L473.0,233.7 L474.0,233.2 L475.0,232.8 L476.0,232.3 L477.0,231.9 L478.0,231.4 L479.0,231.0 L480.0,230.5 L481.0,230.1 L482.0,229.6 L483.0,229.2 L484.0,228.7 L485.0,228.2 L486.0,227.7 L487.0,227.2 L488.0,226.7 L489.0,226.2 L490.0,225.6 L491.0,225.1 L492.0,224.5 L493.0,224.0 L494.0,223.4 L495.0,222.8 L496.0,222.3 L497.0,221.7 L498.0,221.2 L499.0,220.7 L500.0,220.2 L501.0,219.8 L502.0,219.3 L503.0,218.9 L504.0,218.5 L505.0,218.1 L506.0,217.7 L507.0,217.4 L508.0,217.0 L509.0,216.6 L510.0,216.3 L511.0,216.0 L512.0,215.6 L513.0,215.3 L514.0,214.9 L515.0,214.5 L516.0,214.2 L517.0,213.8 L518.0,213.4 L519.0,213.0 L520.0,212.7 L521.0,212.3 L522.0,211.9 L523.0,211.5 L524.0,211.1 L525.0,210.7 L526.0,210.3 L527.0,209.8 L528.0,209.4 L529.0,209.0 L530.0,208.6 L531.0,208.2 L532.0,207.8 L533.0,207.4 L534.0,207.0 L535.0,206.5 L536.0,206.1 L537.0,205.7 L538.0,205.3 L539.0,204.9 L540.0,204.5 L541.0,204.2 L542.0,203.8 L543.0,203.5 L544.0,203.1 L545.0,202.8 L546.0,202.5 L547.0,202.3 L548.0,202.0 L549.0,201.7 L550.0,201.5 L551.0,201.3 L552.0,201.0 L553.0,200.8 L554.0,200.5 L555.0,200.3 L556.0,200.0 L557.0,199.7 L558.0,199.4 L559.0,199.1 L560.0,198.7 L561.0,198.3 L562.0,197.9 L563.0,197.5 L564.0,197.1 L565.0,196.6 L566.0,196.2 L567.0,195.7 L568.0,195.2 L569.0,194.8 L570.0,194.3 L571.0,193.8 L572.0,193.4 L573.0,192.9 L574.0,192.5 L575.0,192.1 L576.0,191.7 L577.0,191.3 L578.0,190.9 L579.0,190.5 L580.0,190.1 L581.0,189.7 L582.0,189.3 L583.0,188.9 L584.0,188.5 L585.0,188.1 L586.0,187.7 L587.0,187.3 L588.0,186.9 L589.0,186.4 L590.0,186.0 L591.0,185.5 L592.0,185.1 L593.0,184.7 L594.0,184.5 L595.0,184.4 L596.0,184.2 L597.0,184.2 L598.0,184.1 L599.0,184.1 L600.0,184.0 L601.0,184.0 L602.0,183.9 L603.0,183.8 L604.0,183.7 L605.0,183.6 L606.0,183.3 L607.0,183.0 L608.0,182.5 L609.0,182.0 L610.0,181.5 L611.0,180.8 L612.0,180.2 L613.0,179.5 L614.0,178.9 L615.0,178.3 L616.0,177.6 L617.0,177.1 L618.0,176.6 L619.0,176.1 L620.0,175.8 L621.0,175.5 L622.0,175.3 L623.0,175.0 L624.0,174.8 L625.0,174.6 L626.0,174.4 L627.0,174.2 L628.0,174.0 L629.0,173.8 L630.0,173.6 L631.0,173.5 L632.0,173.3 L633.0,173.1 L634.0,172.9 L635.0,172.7 L636.0,172.5 L637.0,172.2 L638.0,172.0 L639.0,171.7 L640.0,171.5 L641.0,171.2 L642.0,170.9 L643.0,170.6 L644.0,170.3 L645.0,169.9 L646.0,169.6 L647.0,169.3 L648.0,169.0 L649.0,168.7 L650.0,168.4 L651.0,168.1 L652.0,167.8 L653.0,167.5 L654.0,167.2 L655.0,166.9 L656.0,166.6 L657.0,166.3 L658.0,166.0 L659.0,165.7 L660.0,165.4 L661.0,165.1 L662.0,164.8 L663.0,164.5 L664.0,164.2 L665.0,163.9 L666.0,163.5 L667.0,163.2 L668.0,162.8 L669.0,162.4 L670.0,162.0 L671.0,161.6 L672.0,161.2 L673.0,160.8 L674.0,160.4 L675.0,160.0 L676.0,159.6 L677.0,159.3 L678.0,159.0 L679.0,158.8 L680.0,158.6 L681.0,158.5 L682.0,158.3 L683.0,158.2 L684.0,158.1 L685.0,158.1 L686.0,158.0 L687.0,157.9 L688.0,157.8 L689.0,157.8 L690.0,157.7 L691.0,157.6 L692.0,157.5 L693.0,157.4 L694.0,157.3 L695.0,157.1 L696.0,156.9 L697.0,156.6 L698.0,156.3 L699.0,155.9 L700.0,155.5 L701.0,155.2 L702.0,154.8 L703.0,154.4 L704.0,154.0 L705.0,153.7 L706.0,153.4 L707.0,153.2 L708.0,153.0 L709.0,152.9 L710.0,152.8 L711.0,152.7 L712.0,152.7 L713.0,152.6 L714.0,152.6 L715.0,152.6 L716.0,152.5 L717.0,152.5 L718.0,152.5 L719.0,152.4 L720.0,152.4 L721.0,152.3 L722.0,152.3 L723.0,152.2 L724.0,152.1 L725.0,151.9 L726.0,151.7 L727.0,151.5 L728.0,151.3 L729.0,151.0 L730.0,150.7 L731.0,150.4 L732.0,150.1 L733.0,149.8 L734.0,149.5 L735.0,149.2 L736.0,148.9 L737.0,148.5 L738.0,148.1 L739.0,147.8 L740.0,147.4 L741.0,147.0 L742.0,146.6 L743.0,146.2 L744.0,145.9 L745.0,145.6 L746.0,145.2 L747.0,144.9 L748.0,144.6 L749.0,144.2 L750.0,143.9 L751.0,143.6 L752.0,143.2 L753.0,142.9 L754.0,142.6 L755.0,142.4 L756.0,142.1 L757.0,141.8 L758.0,141.6 L759.0,141.4 L760.0,141.2 L761.0,141.1 L762.0,140.9 L763.0,140.7 L764.0,140.6 L765.0,140.4 L766.0,140.3 L767.0,140.1 L768.0,140.0 L769.0,139.9 L770.0,139.8 L771.0,139.6 L772.0,139.5 L773.0,139.4 L774.0,139.3 L775.0,139.2 L776.0,139.1 L777.0,139.0 L778.0,138.9 L779.0,138.8 L780.0,138.7 L781.0,138.6 L782.0,138.5 L783.0,138.4 L784.0,138.3 L785.0,138.2 L786.0,138.1 L787.0,137.9 L788.0,137.7 L789.0,137.5 L790.0,137.2 L791.0,136.9 L792.0,136.5 L793.0,136.1 L794.0,135.6 L795.0,135.2 L796.0,134.8 L797.0,134.4 L798.0,134.0 L799.0,133.6 L800.0,133.3 L801.0,133.0 L802.0,132.8 L803.0,132.6 L804.0,132.4 L805.0,132.2 L806.0,132.0 L807.0,131.9 L808.0,131.7 L809.0,131.6 L810.0,131.4 L811.0,131.3 L812.0,131.2 L813.0,131.1 L814.0,131.0 L815.0,130.9 L816.0,130.8 L817.0,130.7 L818.0,130.7 L819.0,130.6 L820.0,130.6 L821.0,130.5 L822.0,130.5 L823.0,130.5 L824.0,130.4 L825.0,130.4 L826.0,130.4 L827.0,130.3 L828.0,130.3 L829.0,130.2 L830.0,130.1 L831.0,130.0 L832.0,129.8 L833.0,129.5 L834.0,129.2 L835.0,128.8 L836.0,128.3 L837.0,127.8 L838.0,127.3 L839.0,126.7 L840.0,126.1 L841.0,125.4 L842.0,124.7 L843.0,123.4 L844.0,121.8 L845.0,120.3 L846.0,119.4 L847.0,119.4 L848.0,119.9 L849.0,120.8 L850.0,122.0 L851.0,123.2 L852.0,124.4 L853.0,125.3 L854.0,125.8 L855.0,125.8 L856.0,125.8 L857.0,125.8 L858.0,125.8 L859.0,125.8 L860.0,125.8 L861.0,125.8 L862.0,125.8 L863.0,125.6 L864.0,125.4 L865.0,125.1 L866.0,124.6 L867.0,124.2 L868.0,123.7 L869.0,123.2 L870.0,122.7 L871.0,122.2 L872.0,121.8 L873.0,121.5 L874.0,121.2 L875.0,121.0 L876.0,120.8 L877.0,120.5 L878.0,120.3 L879.0,120.1 L880.0,119.9 L881.0,119.7 L882.0,119.5 L883.0,119.3 L884.0,119.1 L885.0,118.9 L886.0,118.6 L887.0,118.3 L888.0,118.0 L889.0,117.7 L890.0,117.4 L891.0,117.1 L892.0,116.8 L893.0,116.5 L894.0,116.2 L895.0,115.9 L896.0,115.5 L897.0,115.1 L898.0,114.7 L899.0,114.3 L900.0,114.0 L901.0,113.7 L902.0,113.5 L903.0,113.4 L904.0,113.5 L905.0,114.0 L906.0,114.6 L907.0,115.3 L908.0,116.1 L909.0,116.6 L910.0,117.0 L911.0,117.0 L912.0,116.9 L913.0,116.6 L914.0,116.4 L915.0,116.0 L916.0,115.6 L917.0,115.2 L918.0,114.7 L919.0,114.3 L920.0,113.8 L921.0,113.4 L922.0,113.0 L923.0,112.6 L924.0,112.0 L925.0,111.5 L926.0,110.9 L927.0,110.4 L928.0,109.8 L929.0,109.3 L930.0,108.9 L931.0,108.5 L932.0,108.3 L933.0,108.1 L934.0,108.1 L935.0,108.4 L936.0,109.0 L937.0,109.8 L938.0,110.7 L939.0,111.5 L940.0,112.3 L941.0,113.0 L942.0,113.3 L943.0,113.3 L944.0,112.6 L945.0,111.3 L946.0,109.9 L947.0,108.7 L948.0,108.1 L949.0,107.8 L950.0,107.5 L951.0,107.2 L952.0,107.0 L953.0,106.8 L954.0,106.7 L955.0,106.5 L956.0,106.4 L957.0,106.3 L958.0,106.3 L959.0,106.3 L960.0,106.4 L961.0,106.5 L962.0,106.6 L963.0,106.7 L964.0,106.9 L965.0,107.0 L966.0,107.1 L967.0,107.2 L968.0,107.2 L969.0,107.0 L970.0,106.6 L971.0,106.1 L972.0,105.4 L973.0,104.8 L974.0,104.1 L975.0,103.5 L976.0,102.9 L977.0,102.5 L978.0,102.1 L979.0,101.6 L980.0,101.2 L981.0,100.8 L982.0,100.4 L983.0,100.0 L984.0,99.7 L985.0,99.4 L986.0,99.3 L987.0,99.2 L988.0,99.2 L989.0,99.4 L990.0,99.6 L991.0,99.9 L992.0,100.1 L993.0,100.4 L994.0,100.6 L995.0,100.8 L996.0,100.9 L997.0,100.8 L998.0,100.6 L999.0,100.3 L1000.0,99.8 L1001.0,99.3 L1002.0,98.8 L1003.0,98.3 L1004.0,97.8 L1005.0,97.4 L1006.0,97.1 L1007.0,96.8 L1008.0,96.4 L1009.0,96.1 L1010.0,95.8 L1011.0,95.5 L1012.0,95.2 L1013.0,95.0 L1014.0,94.8 L1015.0,94.7 L1016.0,94.7 L1017.0,94.9 L1018.0,95.3 L1019.0,95.8 L1020.0,96.4 L1021.0,96.9 L1022.0,97.3 L1023.0,97.4 L1024.0,97.3 L1025.0,97.0 L1026.0,96.5 L1027.0,96.0 L1028.0,95.5 L1029.0,95.1 L1030.0,94.7 L1031.0,94.5 L1032.0,94.3 L1033.0,94.1 L1034.0,93.9 L1035.0,93.7 L1036.0,93.5 L1037.0,93.4 L1038.0,93.2 L1039.0,93.1 L1040.0,93.0 L1041.0,92.9 L1042.0,92.8 L1043.0,92.7 L1044.0,92.7 L1045.0,92.6 L1046.0,92.5 L1047.0,92.5 L1048.0,92.4 L1049.0,92.4 L1050.0,92.3 L1051.0,92.2 L1052.0,92.2 L1053.0,92.0 L1054.0,91.9 L1055.0,91.6 L1056.0,91.2 L1057.0,90.7 L1058.0,90.1 L1059.0,89.6 L1060.0,89.1 L1061.0,88.7 L1062.0,88.4 L1063.0,88.3 L1064.0,88.2 L1065.0,88.1 L1066.0,88.0 L1067.0,88.0"/>
</g></g>
<g filter="url(#bl)">
<text class="tl" transform="translate(151.5,883.1) scale(1,0.992)" text-anchor="end">0</text>
<text class="tl" transform="translate(151.5,716.5) scale(1,0.992)" text-anchor="end">50</text>
<text class="tl" transform="translate(151.5,549.9) scale(1,0.992)" text-anchor="end">100</text>
<text class="tl" transform="translate(151.5,383.4) scale(1,0.992)" text-anchor="end">150</text>
<text class="tl" transform="translate(151.5,216.8) scale(1,0.992)" text-anchor="end">200</text>
<text class="tl" transform="translate(151.5,50.2) scale(1,0.992)" text-anchor="end">250</text>
<text class="tl" transform="translate(165.6,915.0) scale(1,0.992)" text-anchor="middle">0</text>
<text class="tl" transform="translate(345.6,915.0) scale(1,0.992)" text-anchor="middle">60</text>
<text class="tl" transform="translate(525.6,915.0) scale(1,0.992)" text-anchor="middle">120</text>
<text class="tl" transform="translate(705.6,915.0) scale(1,0.992)" text-anchor="middle">180</text>
<text class="tl" transform="translate(885.6,915.0) scale(1,0.992)" text-anchor="middle">240</text>
<text class="tl" transform="translate(1065.6,915.0) scale(1,0.992)" text-anchor="middle">300</text>
<text class="ax" transform="translate(613.6,959.0) scale(1.008,1.01)" text-anchor="middle">Time (s)</text>
<text class="ax" transform="translate(67.2,472.8) rotate(-90) scale(1.005,1.01)" text-anchor="middle">Voltage (V)</text>
<line x1="666.0" y1="613.0" x2="744.9" y2="613.0" stroke="#000000" stroke-width="3.7" stroke-linecap="round"/>
<text class="lg" transform="translate(755,624.3) scale(1,0.992)">PT</text>
<line x1="666.0" y1="656.8" x2="744.9" y2="656.8" stroke="#ff0000" stroke-width="3.7" stroke-linecap="round" stroke-dasharray="13.4 19.4"/>
<text class="lg" transform="translate(755,667.9) scale(1,0.992)">PT-0.5Ag</text>
<line x1="666.0" y1="700.5" x2="744.9" y2="700.5" stroke="#008000" stroke-width="3.7" stroke-linecap="round" stroke-dasharray="5.1 9.85"/>
<text class="lg" transform="translate(755,711.7) scale(1,0.992)">PT-0.5rGO</text>
<line x1="666.0" y1="744.5" x2="744.9" y2="744.5" stroke="#0000ff" stroke-width="3.7" stroke-linecap="round" stroke-dasharray="9.8 8.0 0.3 8.0"/>
<text class="lg" transform="translate(755,755.2) scale(1,0.992)">PT-0.5rGO+0.5Ag</text>
</g>
</svg></body></html>
